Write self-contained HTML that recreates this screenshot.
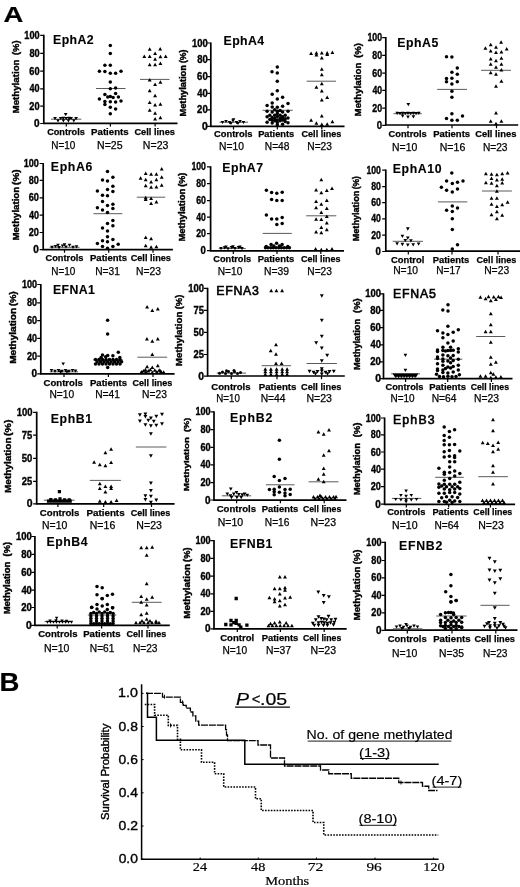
<!DOCTYPE html>
<html><head><meta charset="utf-8"><style>
html,body{margin:0;padding:0;background:#fff;}
svg{display:block;filter:grayscale(1);}
text{font-family:"Liberation Sans", sans-serif;fill:#000;stroke:#000;stroke-width:0.2px;}
.t{stroke-width:0.12px;}
.tm{stroke-width:0.6px;}
.k{stroke-width:0.35px;}
.y{stroke-width:0.4px;}
.c{stroke-width:0.25px;}
.n{stroke-width:0.25px;}
.lg{stroke-width:0.15px;}
.serif{font-family:"Liberation Serif", serif;}
</style></head><body>
<svg width="520" height="887" viewBox="0 0 520 887">
<rect width="520" height="887" fill="#fff"/>
<text x="3.51" y="22.20" font-size="21.5" font-weight="bold" textLength="19.83" lengthAdjust="spacingAndGlyphs">A</text>
<text x="-0.59" y="691.00" font-size="25.0" font-weight="bold" textLength="19.89" lengthAdjust="spacingAndGlyphs">B</text>
<g><path d="M43.8,34.8V123.4H177.5" fill="none" stroke="#000" stroke-width="1.7"/><path d="M40.2,35.4H43.8M40.2,53.4H43.8M40.2,71.2H43.8M40.2,88.9H43.8M40.2,106.1H43.8M40.2,123.5H43.8M66.3,123.4V126.6M110.4,123.4V126.6M155.1,123.4V126.6" stroke="#000" stroke-width="1.2"/><text x="24.35" y="38.95" font-size="10.0" font-weight="bold" textLength="15.25" lengthAdjust="spacingAndGlyphs" class="k">100</text><text x="29.39" y="56.95" font-size="10.0" font-weight="bold" textLength="10.20" lengthAdjust="spacingAndGlyphs" class="k">80</text><text x="29.34" y="74.75" font-size="10.0" font-weight="bold" textLength="10.25" lengthAdjust="spacingAndGlyphs" class="k">60</text><text x="29.53" y="92.45" font-size="10.0" font-weight="bold" textLength="10.05" lengthAdjust="spacingAndGlyphs" class="k">40</text><text x="29.34" y="109.65" font-size="10.0" font-weight="bold" textLength="10.25" lengthAdjust="spacingAndGlyphs" class="k">20</text><text x="34.03" y="127.05" font-size="10.0" font-weight="bold" textLength="5.58" lengthAdjust="spacingAndGlyphs" class="k">0</text><text transform="translate(18.50,112.80) rotate(-90)" x="-0.63" y="0" font-size="9.9" font-weight="bold" textLength="53.92" lengthAdjust="spacingAndGlyphs" class="y">Methylation</text><text transform="translate(18.50,54.60) rotate(-90)" x="-0.47" y="0" font-size="9.9" font-weight="bold" textLength="14.64" lengthAdjust="spacingAndGlyphs" class="y">(%)</text><text x="53.10" y="44.40" font-size="12.3" font-weight="bold" textLength="40.52" lengthAdjust="spacing" class="t">EphA2</text><text x="47.13" y="134.70" font-size="9.7" font-weight="bold" textLength="37.64" lengthAdjust="spacingAndGlyphs" class="c">Controls</text><text x="91.07" y="134.70" font-size="9.7" font-weight="bold" textLength="37.62" lengthAdjust="spacingAndGlyphs" class="c">Patients</text><text x="134.43" y="134.70" font-size="9.7" font-weight="bold" textLength="40.54" lengthAdjust="spacingAndGlyphs" class="c">Cell lines</text><text x="51.30" y="149.00" font-size="10.6" font-weight="normal" textLength="24.08" lengthAdjust="spacingAndGlyphs" class="n">N=10</text><text x="97.06" y="149.00" font-size="10.6" font-weight="normal" textLength="25.50" lengthAdjust="spacingAndGlyphs" class="n">N=25</text><text x="142.86" y="149.00" font-size="10.6" font-weight="normal" textLength="25.50" lengthAdjust="spacingAndGlyphs" class="n">N=23</text></g>
<g><path d="M210.8,42.4V126.4H344.5" fill="none" stroke="#000" stroke-width="1.7"/><path d="M207.2,43.0H210.8M207.2,59.6H210.8M207.2,76.7H210.8M207.2,93.3H210.8M207.2,109.9H210.8M207.2,126.4H210.8M233.5,126.4V129.6M277.3,126.4V129.6M321.8,126.4V129.6" stroke="#000" stroke-width="1.2"/><text x="191.93" y="46.55" font-size="10.0" font-weight="bold" textLength="15.78" lengthAdjust="spacingAndGlyphs" class="k">100</text><text x="197.15" y="63.15" font-size="10.0" font-weight="bold" textLength="10.55" lengthAdjust="spacingAndGlyphs" class="k">80</text><text x="197.10" y="80.25" font-size="10.0" font-weight="bold" textLength="10.60" lengthAdjust="spacingAndGlyphs" class="k">60</text><text x="197.29" y="96.85" font-size="10.0" font-weight="bold" textLength="10.40" lengthAdjust="spacingAndGlyphs" class="k">40</text><text x="197.10" y="113.45" font-size="10.0" font-weight="bold" textLength="10.60" lengthAdjust="spacingAndGlyphs" class="k">20</text><text x="201.95" y="129.95" font-size="10.0" font-weight="bold" textLength="5.78" lengthAdjust="spacingAndGlyphs" class="k">0</text><text transform="translate(185.90,115.90) rotate(-90)" x="-0.60" y="0" font-size="8.8" font-weight="bold" textLength="51.36" lengthAdjust="spacingAndGlyphs" class="y">Methylation</text><text transform="translate(185.90,62.70) rotate(-90)" x="-0.43" y="0" font-size="8.8" font-weight="bold" textLength="13.47" lengthAdjust="spacingAndGlyphs" class="y">(%)</text><text x="223.60" y="45.10" font-size="12.3" font-weight="bold" textLength="40.39" lengthAdjust="spacing" class="t">EphA4</text><text x="214.03" y="136.70" font-size="9.7" font-weight="bold" textLength="38.46" lengthAdjust="spacingAndGlyphs" class="c">Controls</text><text x="258.20" y="136.70" font-size="9.7" font-weight="bold" textLength="36.08" lengthAdjust="spacingAndGlyphs" class="c">Patients</text><text x="301.54" y="136.70" font-size="9.7" font-weight="bold" textLength="39.83" lengthAdjust="spacingAndGlyphs" class="c">Cell lines</text><text x="218.98" y="149.60" font-size="10.6" font-weight="normal" textLength="24.92" lengthAdjust="spacingAndGlyphs" class="n">N=10</text><text x="264.78" y="149.60" font-size="10.6" font-weight="normal" textLength="24.66" lengthAdjust="spacingAndGlyphs" class="n">N=48</text><text x="307.28" y="149.60" font-size="10.6" font-weight="normal" textLength="24.66" lengthAdjust="spacingAndGlyphs" class="n">N=23</text></g>
<g><path d="M385.8,37.1V125.0H518.2" fill="none" stroke="#000" stroke-width="1.7"/><path d="M382.2,37.7H385.8M382.2,55.4H385.8M382.2,73.2H385.8M382.2,90.4H385.8M382.2,108.1H385.8M382.2,125.3H385.8M408.0,125.0V128.2M452.0,125.0V128.2M496.5,125.0V128.2" stroke="#000" stroke-width="1.2"/><text x="367.47" y="41.25" font-size="10.0" font-weight="bold" textLength="14.61" lengthAdjust="spacingAndGlyphs" class="k">100</text><text x="372.30" y="58.95" font-size="10.0" font-weight="bold" textLength="9.77" lengthAdjust="spacingAndGlyphs" class="k">80</text><text x="372.26" y="76.75" font-size="10.0" font-weight="bold" textLength="9.82" lengthAdjust="spacingAndGlyphs" class="k">60</text><text x="372.44" y="93.95" font-size="10.0" font-weight="bold" textLength="9.63" lengthAdjust="spacingAndGlyphs" class="k">40</text><text x="372.26" y="111.65" font-size="10.0" font-weight="bold" textLength="9.82" lengthAdjust="spacingAndGlyphs" class="k">20</text><text x="376.75" y="128.85" font-size="10.0" font-weight="bold" textLength="5.35" lengthAdjust="spacingAndGlyphs" class="k">0</text><text transform="translate(361.40,115.80) rotate(-90)" x="-0.63" y="0" font-size="9.57" font-weight="bold" textLength="53.82" lengthAdjust="spacingAndGlyphs" class="y">Methylation</text><text transform="translate(361.40,57.40) rotate(-90)" x="-0.47" y="0" font-size="9.57" font-weight="bold" textLength="14.75" lengthAdjust="spacingAndGlyphs" class="y">(%)</text><text x="397.30" y="46.60" font-size="12.3" font-weight="bold" textLength="40.93" lengthAdjust="spacing" class="t">EphA5</text><text x="388.53" y="137.40" font-size="9.7" font-weight="bold" textLength="38.15" lengthAdjust="spacingAndGlyphs" class="c">Controls</text><text x="433.18" y="137.40" font-size="9.7" font-weight="bold" textLength="36.90" lengthAdjust="spacingAndGlyphs" class="c">Patients</text><text x="475.23" y="137.40" font-size="9.7" font-weight="bold" textLength="41.16" lengthAdjust="spacingAndGlyphs" class="c">Cell lines</text><text x="392.07" y="150.80" font-size="10.6" font-weight="normal" textLength="25.24" lengthAdjust="spacingAndGlyphs" class="n">N=10</text><text x="439.76" y="150.80" font-size="10.6" font-weight="normal" textLength="25.50" lengthAdjust="spacingAndGlyphs" class="n">N=16</text><text x="482.88" y="150.80" font-size="10.6" font-weight="normal" textLength="24.66" lengthAdjust="spacingAndGlyphs" class="n">N=23</text></g>
<g><path d="M43.2,162.9V249.6H172.9" fill="none" stroke="#000" stroke-width="1.7"/><path d="M39.6,163.5H43.2M39.6,180.4H43.2M39.6,197.8H43.2M39.6,215.1H43.2M39.6,232.5H43.2M39.6,249.7H43.2M64.5,249.6V252.8M108.7,249.6V252.8M153.0,249.6V252.8" stroke="#000" stroke-width="1.2"/><text x="23.76" y="167.05" font-size="10.0" font-weight="bold" textLength="15.14" lengthAdjust="spacingAndGlyphs" class="k">100</text><text x="28.76" y="183.95" font-size="10.0" font-weight="bold" textLength="10.13" lengthAdjust="spacingAndGlyphs" class="k">80</text><text x="28.71" y="201.35" font-size="10.0" font-weight="bold" textLength="10.17" lengthAdjust="spacingAndGlyphs" class="k">60</text><text x="28.90" y="218.65" font-size="10.0" font-weight="bold" textLength="9.98" lengthAdjust="spacingAndGlyphs" class="k">40</text><text x="28.71" y="236.05" font-size="10.0" font-weight="bold" textLength="10.17" lengthAdjust="spacingAndGlyphs" class="k">20</text><text x="33.37" y="253.25" font-size="10.0" font-weight="bold" textLength="5.54" lengthAdjust="spacingAndGlyphs" class="k">0</text><text transform="translate(18.80,239.80) rotate(-90)" x="-0.63" y="0" font-size="8.58" font-weight="bold" textLength="53.51" lengthAdjust="spacingAndGlyphs" class="y">Methylation</text><text transform="translate(18.80,184.40) rotate(-90)" x="-0.49" y="0" font-size="8.58" font-weight="bold" textLength="15.39" lengthAdjust="spacingAndGlyphs" class="y">(%)</text><text x="50.80" y="170.90" font-size="12.3" font-weight="bold" textLength="41.46" lengthAdjust="spacing" class="t">EphA6</text><text x="45.53" y="260.60" font-size="9.7" font-weight="bold" textLength="37.95" lengthAdjust="spacingAndGlyphs" class="c">Controls</text><text x="89.98" y="260.60" font-size="9.7" font-weight="bold" textLength="37.10" lengthAdjust="spacingAndGlyphs" class="c">Patients</text><text x="130.63" y="260.60" font-size="9.7" font-weight="bold" textLength="40.34" lengthAdjust="spacingAndGlyphs" class="c">Cell lines</text><text x="51.30" y="274.60" font-size="10.6" font-weight="normal" textLength="24.08" lengthAdjust="spacingAndGlyphs" class="n">N=10</text><text x="95.18" y="274.60" font-size="10.6" font-weight="normal" textLength="24.71" lengthAdjust="spacingAndGlyphs" class="n">N=31</text><text x="136.07" y="274.60" font-size="10.6" font-weight="normal" textLength="24.98" lengthAdjust="spacingAndGlyphs" class="n">N=23</text></g>
<g><path d="M210.6,166.2V250.8H344.0" fill="none" stroke="#000" stroke-width="1.7"/><path d="M207.0,166.8H210.6M207.0,183.6H210.6M207.0,200.6H210.6M207.0,217.1H210.6M207.0,233.7H210.6M207.0,250.6H210.6M233.3,250.8V254.0M277.0,250.8V254.0M320.8,250.8V254.0" stroke="#000" stroke-width="1.2"/><text x="191.38" y="170.35" font-size="10.0" font-weight="bold" textLength="14.50" lengthAdjust="spacingAndGlyphs" class="k">100</text><text x="196.17" y="187.15" font-size="10.0" font-weight="bold" textLength="9.70" lengthAdjust="spacingAndGlyphs" class="k">80</text><text x="196.13" y="204.15" font-size="10.0" font-weight="bold" textLength="9.74" lengthAdjust="spacingAndGlyphs" class="k">60</text><text x="196.30" y="220.65" font-size="10.0" font-weight="bold" textLength="9.56" lengthAdjust="spacingAndGlyphs" class="k">40</text><text x="196.13" y="237.25" font-size="10.0" font-weight="bold" textLength="9.74" lengthAdjust="spacingAndGlyphs" class="k">20</text><text x="200.58" y="254.15" font-size="10.0" font-weight="bold" textLength="5.31" lengthAdjust="spacingAndGlyphs" class="k">0</text><text transform="translate(184.60,241.00) rotate(-90)" x="-0.62" y="0" font-size="8.58" font-weight="bold" textLength="52.90" lengthAdjust="spacingAndGlyphs" class="y">Methylation</text><text transform="translate(184.60,186.30) rotate(-90)" x="-0.45" y="0" font-size="8.58" font-weight="bold" textLength="14.00" lengthAdjust="spacingAndGlyphs" class="y">(%)</text><text x="222.30" y="171.90" font-size="12.3" font-weight="bold" textLength="40.72" lengthAdjust="spacing" class="t">EphA7</text><text x="213.23" y="261.70" font-size="9.7" font-weight="bold" textLength="37.95" lengthAdjust="spacingAndGlyphs" class="c">Controls</text><text x="257.69" y="261.70" font-size="9.7" font-weight="bold" textLength="36.59" lengthAdjust="spacingAndGlyphs" class="c">Patients</text><text x="301.04" y="261.70" font-size="9.7" font-weight="bold" textLength="39.53" lengthAdjust="spacingAndGlyphs" class="c">Cell lines</text><text x="217.69" y="274.60" font-size="10.6" font-weight="normal" textLength="24.61" lengthAdjust="spacingAndGlyphs" class="n">N=10</text><text x="263.97" y="274.60" font-size="10.6" font-weight="normal" textLength="25.03" lengthAdjust="spacingAndGlyphs" class="n">N=39</text><text x="307.28" y="274.60" font-size="10.6" font-weight="normal" textLength="24.66" lengthAdjust="spacingAndGlyphs" class="n">N=23</text></g>
<g><path d="M385.8,169.5V251.2H520.0" fill="none" stroke="#000" stroke-width="1.7"/><path d="M382.2,170.1H385.8M382.2,186.7H385.8M382.2,202.7H385.8M382.2,218.9H385.8M382.2,235.2H385.8M382.2,251.5H385.8M408.3,251.2V254.4M452.0,251.2V254.4M498.0,251.2V254.4" stroke="#000" stroke-width="1.2"/><text x="366.38" y="173.65" font-size="10.0" font-weight="bold" textLength="14.50" lengthAdjust="spacingAndGlyphs" class="k">100</text><text x="371.17" y="190.25" font-size="10.0" font-weight="bold" textLength="9.70" lengthAdjust="spacingAndGlyphs" class="k">80</text><text x="371.13" y="206.25" font-size="10.0" font-weight="bold" textLength="9.74" lengthAdjust="spacingAndGlyphs" class="k">60</text><text x="371.30" y="222.45" font-size="10.0" font-weight="bold" textLength="9.56" lengthAdjust="spacingAndGlyphs" class="k">40</text><text x="371.13" y="238.75" font-size="10.0" font-weight="bold" textLength="9.74" lengthAdjust="spacingAndGlyphs" class="k">20</text><text x="375.58" y="255.05" font-size="10.0" font-weight="bold" textLength="5.31" lengthAdjust="spacingAndGlyphs" class="k">0</text><text transform="translate(359.40,240.70) rotate(-90)" x="-0.59" y="0" font-size="8.58" font-weight="bold" textLength="50.55" lengthAdjust="spacingAndGlyphs" class="y">Methylation</text><text transform="translate(359.40,188.90) rotate(-90)" x="-0.43" y="0" font-size="8.58" font-weight="bold" textLength="13.25" lengthAdjust="spacingAndGlyphs" class="y">(%)</text><text x="392.70" y="173.00" font-size="12.3" font-weight="bold" textLength="48.93" lengthAdjust="spacing" class="t">EphA10</text><text x="390.92" y="262.50" font-size="9.7" font-weight="bold" textLength="33.33" lengthAdjust="spacingAndGlyphs" class="c">Control</text><text x="432.69" y="262.50" font-size="9.7" font-weight="bold" textLength="36.59" lengthAdjust="spacingAndGlyphs" class="c">Patients</text><text x="476.54" y="262.50" font-size="9.7" font-weight="bold" textLength="39.83" lengthAdjust="spacingAndGlyphs" class="c">Cell lines</text><text x="393.18" y="273.80" font-size="10.6" font-weight="normal" textLength="24.92" lengthAdjust="spacingAndGlyphs" class="n">N=10</text><text x="436.29" y="273.80" font-size="10.6" font-weight="normal" textLength="24.45" lengthAdjust="spacingAndGlyphs" class="n">N=17</text><text x="484.17" y="273.80" font-size="10.6" font-weight="normal" textLength="24.98" lengthAdjust="spacingAndGlyphs" class="n">N=23</text></g>
<g><path d="M40.8,283.9V373.9H174.6" fill="none" stroke="#000" stroke-width="1.7"/><path d="M37.2,284.5H40.8M37.2,302.9H40.8M37.2,320.6H40.8M37.2,338.4H40.8M37.2,356.1H40.8M37.2,373.9H40.8M64.0,373.9V377.1M108.4,373.9V377.1M153.0,373.9V377.1" stroke="#000" stroke-width="1.2"/><text x="21.96" y="288.05" font-size="10.0" font-weight="bold" textLength="15.14" lengthAdjust="spacingAndGlyphs" class="k">100</text><text x="26.96" y="306.45" font-size="10.0" font-weight="bold" textLength="10.13" lengthAdjust="spacingAndGlyphs" class="k">80</text><text x="26.91" y="324.15" font-size="10.0" font-weight="bold" textLength="10.17" lengthAdjust="spacingAndGlyphs" class="k">60</text><text x="27.10" y="341.95" font-size="10.0" font-weight="bold" textLength="9.98" lengthAdjust="spacingAndGlyphs" class="k">40</text><text x="26.91" y="359.65" font-size="10.0" font-weight="bold" textLength="10.17" lengthAdjust="spacingAndGlyphs" class="k">20</text><text x="31.57" y="377.45" font-size="10.0" font-weight="bold" textLength="5.54" lengthAdjust="spacingAndGlyphs" class="k">0</text><text transform="translate(15.70,363.20) rotate(-90)" x="-0.65" y="0" font-size="8.91" font-weight="bold" textLength="55.97" lengthAdjust="spacingAndGlyphs" class="y">Methylation</text><text transform="translate(15.70,305.60) rotate(-90)" x="-0.47" y="0" font-size="8.91" font-weight="bold" textLength="14.75" lengthAdjust="spacingAndGlyphs" class="y">(%)</text><text x="53.00" y="293.80" font-size="12.3" font-weight="bold" textLength="41.95" lengthAdjust="spacing" class="t">EFNA1</text><text x="43.62" y="385.50" font-size="9.7" font-weight="bold" textLength="39.27" lengthAdjust="spacingAndGlyphs" class="c">Controls</text><text x="89.98" y="385.50" font-size="9.7" font-weight="bold" textLength="37.10" lengthAdjust="spacingAndGlyphs" class="c">Patients</text><text x="132.54" y="385.50" font-size="9.7" font-weight="bold" textLength="39.73" lengthAdjust="spacingAndGlyphs" class="c">Cell lines</text><text x="49.38" y="398.20" font-size="10.6" font-weight="normal" textLength="24.71" lengthAdjust="spacingAndGlyphs" class="n">N=10</text><text x="95.18" y="398.20" font-size="10.6" font-weight="normal" textLength="24.71" lengthAdjust="spacingAndGlyphs" class="n">N=41</text><text x="142.08" y="398.20" font-size="10.6" font-weight="normal" textLength="24.87" lengthAdjust="spacingAndGlyphs" class="n">N=23</text></g>
<g><path d="M207.6,287.8V376.0H344.8" fill="none" stroke="#000" stroke-width="1.7"/><path d="M204.0,288.4H207.6M204.0,310.4H207.6M204.0,332.4H207.6M204.0,354.5H207.6M204.0,376.2H207.6M231.3,376.0V379.2M277.0,376.0V379.2M321.5,376.0V379.2" stroke="#000" stroke-width="1.2"/><text x="188.33" y="291.95" font-size="10.0" font-weight="bold" textLength="15.78" lengthAdjust="spacingAndGlyphs" class="k">100</text><text x="193.46" y="313.95" font-size="10.0" font-weight="bold" textLength="10.50" lengthAdjust="spacingAndGlyphs" class="k">75</text><text x="193.55" y="335.95" font-size="10.0" font-weight="bold" textLength="10.55" lengthAdjust="spacingAndGlyphs" class="k">50</text><text x="193.50" y="358.05" font-size="10.0" font-weight="bold" textLength="10.45" lengthAdjust="spacingAndGlyphs" class="k">25</text><text x="198.35" y="379.75" font-size="10.0" font-weight="bold" textLength="5.78" lengthAdjust="spacingAndGlyphs" class="k">0</text><text transform="translate(182.00,365.70) rotate(-90)" x="-0.64" y="0" font-size="9.24" font-weight="bold" textLength="54.84" lengthAdjust="spacingAndGlyphs" class="y">Methylation</text><text transform="translate(182.00,308.90) rotate(-90)" x="-0.47" y="0" font-size="9.24" font-weight="bold" textLength="14.64" lengthAdjust="spacingAndGlyphs" class="y">(%)</text><text x="216.32" y="294.80" font-size="12.3" font-weight="normal" textLength="42.52" lengthAdjust="spacing" class="tm">EFNA3</text><text x="211.32" y="390.20" font-size="9.7" font-weight="bold" textLength="39.27" lengthAdjust="spacingAndGlyphs" class="c">Controls</text><text x="258.77" y="390.20" font-size="9.7" font-weight="bold" textLength="37.62" lengthAdjust="spacingAndGlyphs" class="c">Patients</text><text x="301.03" y="390.20" font-size="9.7" font-weight="bold" textLength="40.34" lengthAdjust="spacingAndGlyphs" class="c">Cell lines</text><text x="216.32" y="401.80" font-size="10.6" font-weight="normal" textLength="23.55" lengthAdjust="spacingAndGlyphs" class="n">N=10</text><text x="260.68" y="401.80" font-size="10.6" font-weight="normal" textLength="24.87" lengthAdjust="spacingAndGlyphs" class="n">N=44</text><text x="306.46" y="401.80" font-size="10.6" font-weight="normal" textLength="25.50" lengthAdjust="spacingAndGlyphs" class="n">N=23</text></g>
<g><path d="M383.5,293.3V378.7H512.5" fill="none" stroke="#000" stroke-width="1.7"/><path d="M379.9,293.9H383.5M379.9,310.4H383.5M379.9,327.6H383.5M379.9,344.8H383.5M379.9,361.9H383.5M379.9,378.7H383.5M405.6,378.7V381.9M447.7,378.7V381.9M491.4,378.7V381.9" stroke="#000" stroke-width="1.2"/><text x="365.13" y="297.45" font-size="10.0" font-weight="bold" textLength="15.78" lengthAdjust="spacingAndGlyphs" class="k">100</text><text x="370.35" y="313.95" font-size="10.0" font-weight="bold" textLength="10.55" lengthAdjust="spacingAndGlyphs" class="k">80</text><text x="370.30" y="331.15" font-size="10.0" font-weight="bold" textLength="10.60" lengthAdjust="spacingAndGlyphs" class="k">60</text><text x="370.49" y="348.35" font-size="10.0" font-weight="bold" textLength="10.40" lengthAdjust="spacingAndGlyphs" class="k">40</text><text x="370.30" y="365.45" font-size="10.0" font-weight="bold" textLength="10.60" lengthAdjust="spacingAndGlyphs" class="k">20</text><text x="375.15" y="382.25" font-size="10.0" font-weight="bold" textLength="5.78" lengthAdjust="spacingAndGlyphs" class="k">0</text><text transform="translate(359.90,369.50) rotate(-90)" x="-0.60" y="0" font-size="8.36" font-weight="bold" textLength="51.16" lengthAdjust="spacingAndGlyphs" class="y">Methylation</text><text transform="translate(359.90,312.50) rotate(-90)" x="-0.47" y="0" font-size="8.36" font-weight="bold" textLength="14.64" lengthAdjust="spacingAndGlyphs" class="y">(%)</text><text x="392.92" y="297.70" font-size="12.3" font-weight="normal" textLength="42.92" lengthAdjust="spacing" class="tm">EFNA5</text><text x="385.53" y="389.50" font-size="9.7" font-weight="bold" textLength="37.95" lengthAdjust="spacingAndGlyphs" class="c">Controls</text><text x="429.19" y="389.50" font-size="9.7" font-weight="bold" textLength="36.80" lengthAdjust="spacingAndGlyphs" class="c">Patients</text><text x="470.65" y="389.50" font-size="9.7" font-weight="bold" textLength="38.41" lengthAdjust="spacingAndGlyphs" class="c">Cell lines</text><text x="390.50" y="402.20" font-size="10.6" font-weight="normal" textLength="24.08" lengthAdjust="spacingAndGlyphs" class="n">N=10</text><text x="431.68" y="402.20" font-size="10.6" font-weight="normal" textLength="24.87" lengthAdjust="spacingAndGlyphs" class="n">N=64</text><text x="473.97" y="402.20" font-size="10.6" font-weight="normal" textLength="24.98" lengthAdjust="spacingAndGlyphs" class="n">N=23</text></g>
<g><path d="M36.7,411.7V503.8H174.6" fill="none" stroke="#000" stroke-width="1.7"/><path d="M33.1,412.3H36.7M33.1,435.2H36.7M33.1,458.3H36.7M33.1,481.3H36.7M33.1,503.8H36.7M57.9,503.8V507.0M103.7,503.8V507.0M151.5,503.8V507.0" stroke="#000" stroke-width="1.2"/><text x="16.63" y="415.85" font-size="10.0" font-weight="bold" textLength="15.78" lengthAdjust="spacingAndGlyphs" class="k">100</text><text x="21.76" y="438.75" font-size="10.0" font-weight="bold" textLength="10.50" lengthAdjust="spacingAndGlyphs" class="k">75</text><text x="21.85" y="461.85" font-size="10.0" font-weight="bold" textLength="10.55" lengthAdjust="spacingAndGlyphs" class="k">50</text><text x="21.80" y="484.85" font-size="10.0" font-weight="bold" textLength="10.45" lengthAdjust="spacingAndGlyphs" class="k">25</text><text x="26.65" y="507.35" font-size="10.0" font-weight="bold" textLength="5.78" lengthAdjust="spacingAndGlyphs" class="k">0</text><text transform="translate(11.00,492.30) rotate(-90)" x="-0.65" y="0" font-size="9.46" font-weight="bold" textLength="55.46" lengthAdjust="spacingAndGlyphs" class="y">Methylation</text><text transform="translate(11.00,435.40) rotate(-90)" x="-0.53" y="0" font-size="9.46" font-weight="bold" textLength="16.35" lengthAdjust="spacingAndGlyphs" class="y">(%)</text><text x="50.80" y="423.20" font-size="12.3" font-weight="bold" textLength="41.33" lengthAdjust="spacing" class="t">EphB1</text><text x="39.81" y="515.80" font-size="9.7" font-weight="bold" textLength="39.58" lengthAdjust="spacingAndGlyphs" class="c">Controls</text><text x="86.46" y="515.80" font-size="9.7" font-weight="bold" textLength="38.13" lengthAdjust="spacingAndGlyphs" class="c">Patients</text><text x="130.64" y="515.80" font-size="9.7" font-weight="bold" textLength="39.73" lengthAdjust="spacingAndGlyphs" class="c">Cell lines</text><text x="42.07" y="528.80" font-size="10.6" font-weight="normal" textLength="25.24" lengthAdjust="spacingAndGlyphs" class="n">N=10</text><text x="89.76" y="528.80" font-size="10.6" font-weight="normal" textLength="25.50" lengthAdjust="spacingAndGlyphs" class="n">N=16</text><text x="136.36" y="528.80" font-size="10.6" font-weight="normal" textLength="25.50" lengthAdjust="spacingAndGlyphs" class="n">N=23</text></g>
<g><path d="M214.0,411.2V500.1H346.5" fill="none" stroke="#000" stroke-width="1.7"/><path d="M210.4,411.8H214.0M210.4,429.6H214.0M210.4,447.3H214.0M210.4,464.9H214.0M210.4,482.6H214.0M210.4,500.0H214.0M236.6,500.1V503.3M280.4,500.1V503.3M324.2,500.1V503.3" stroke="#000" stroke-width="1.2"/><text x="195.46" y="415.35" font-size="10.0" font-weight="bold" textLength="15.14" lengthAdjust="spacingAndGlyphs" class="k">100</text><text x="200.46" y="433.15" font-size="10.0" font-weight="bold" textLength="10.13" lengthAdjust="spacingAndGlyphs" class="k">80</text><text x="200.41" y="450.85" font-size="10.0" font-weight="bold" textLength="10.17" lengthAdjust="spacingAndGlyphs" class="k">60</text><text x="200.60" y="468.45" font-size="10.0" font-weight="bold" textLength="9.98" lengthAdjust="spacingAndGlyphs" class="k">40</text><text x="200.41" y="486.15" font-size="10.0" font-weight="bold" textLength="10.17" lengthAdjust="spacingAndGlyphs" class="k">20</text><text x="205.07" y="503.55" font-size="10.0" font-weight="bold" textLength="5.54" lengthAdjust="spacingAndGlyphs" class="k">0</text><text transform="translate(189.20,490.60) rotate(-90)" x="-0.63" y="0" font-size="8.03" font-weight="bold" textLength="54.23" lengthAdjust="spacingAndGlyphs" class="y">Methylation</text><text transform="translate(189.20,431.60) rotate(-90)" x="-0.46" y="0" font-size="8.03" font-weight="bold" textLength="14.43" lengthAdjust="spacingAndGlyphs" class="y">(%)</text><text x="230.10" y="421.50" font-size="12.3" font-weight="bold" textLength="42.12" lengthAdjust="spacing" class="t">EphB2</text><text x="216.72" y="512.20" font-size="9.7" font-weight="bold" textLength="39.27" lengthAdjust="spacingAndGlyphs" class="c">Controls</text><text x="261.69" y="512.20" font-size="9.7" font-weight="bold" textLength="36.59" lengthAdjust="spacingAndGlyphs" class="c">Patients</text><text x="302.95" y="512.20" font-size="9.7" font-weight="bold" textLength="38.41" lengthAdjust="spacingAndGlyphs" class="c">Cell lines</text><text x="217.66" y="525.70" font-size="10.6" font-weight="normal" textLength="25.45" lengthAdjust="spacingAndGlyphs" class="n">N=10</text><text x="264.78" y="525.70" font-size="10.6" font-weight="normal" textLength="24.66" lengthAdjust="spacingAndGlyphs" class="n">N=16</text><text x="310.56" y="525.70" font-size="10.6" font-weight="normal" textLength="25.50" lengthAdjust="spacingAndGlyphs" class="n">N=23</text></g>
<g><path d="M384.6,417.4V504.3H515.1" fill="none" stroke="#000" stroke-width="1.7"/><path d="M381.0,418.0H384.6M381.0,434.9H384.6M381.0,452.0H384.6M381.0,469.2H384.6M381.0,486.7H384.6M381.0,504.1H384.6M406.3,504.3V507.5M448.7,504.3V507.5M490.4,504.3V507.5" stroke="#000" stroke-width="1.2"/><text x="365.76" y="421.55" font-size="10.0" font-weight="bold" textLength="15.14" lengthAdjust="spacingAndGlyphs" class="k">100</text><text x="370.76" y="438.45" font-size="10.0" font-weight="bold" textLength="10.13" lengthAdjust="spacingAndGlyphs" class="k">80</text><text x="370.71" y="455.55" font-size="10.0" font-weight="bold" textLength="10.17" lengthAdjust="spacingAndGlyphs" class="k">60</text><text x="370.90" y="472.75" font-size="10.0" font-weight="bold" textLength="9.98" lengthAdjust="spacingAndGlyphs" class="k">40</text><text x="370.71" y="490.25" font-size="10.0" font-weight="bold" textLength="10.17" lengthAdjust="spacingAndGlyphs" class="k">20</text><text x="375.37" y="507.65" font-size="10.0" font-weight="bold" textLength="5.54" lengthAdjust="spacingAndGlyphs" class="k">0</text><text transform="translate(359.90,494.60) rotate(-90)" x="-0.61" y="0" font-size="8.36" font-weight="bold" textLength="52.08" lengthAdjust="spacingAndGlyphs" class="y">Methylation</text><text transform="translate(359.90,436.90) rotate(-90)" x="-0.48" y="0" font-size="8.36" font-weight="bold" textLength="14.86" lengthAdjust="spacingAndGlyphs" class="y">(%)</text><text x="392.92" y="423.80" font-size="12.3" font-weight="normal" textLength="41.71" lengthAdjust="spacing" class="tm">EphB3</text><text x="387.13" y="515.30" font-size="9.7" font-weight="bold" textLength="38.25" lengthAdjust="spacingAndGlyphs" class="c">Controls</text><text x="432.39" y="515.30" font-size="9.7" font-weight="bold" textLength="36.28" lengthAdjust="spacingAndGlyphs" class="c">Patients</text><text x="473.35" y="515.30" font-size="9.7" font-weight="bold" textLength="38.91" lengthAdjust="spacingAndGlyphs" class="c">Cell lines</text><text x="392.05" y="528.80" font-size="10.6" font-weight="normal" textLength="25.55" lengthAdjust="spacingAndGlyphs" class="n">N=10</text><text x="434.39" y="528.80" font-size="10.6" font-weight="normal" textLength="24.55" lengthAdjust="spacingAndGlyphs" class="n">N=64</text><text x="478.26" y="528.80" font-size="10.6" font-weight="normal" textLength="25.50" lengthAdjust="spacingAndGlyphs" class="n">N=23</text></g>
<g><path d="M34.9,535.9V625.3H169.8" fill="none" stroke="#000" stroke-width="1.7"/><path d="M31.3,536.5H34.9M31.3,554.3H34.9M31.3,572.4H34.9M31.3,590.1H34.9M31.3,607.5H34.9M31.3,625.3H34.9M57.2,625.3V628.5M101.6,625.3V628.5M148.0,625.3V628.5" stroke="#000" stroke-width="1.2"/><text x="16.03" y="540.05" font-size="10.0" font-weight="bold" textLength="15.78" lengthAdjust="spacingAndGlyphs" class="k">100</text><text x="21.25" y="557.85" font-size="10.0" font-weight="bold" textLength="10.55" lengthAdjust="spacingAndGlyphs" class="k">80</text><text x="21.20" y="575.95" font-size="10.0" font-weight="bold" textLength="10.60" lengthAdjust="spacingAndGlyphs" class="k">60</text><text x="21.39" y="593.65" font-size="10.0" font-weight="bold" textLength="10.40" lengthAdjust="spacingAndGlyphs" class="k">40</text><text x="21.20" y="611.05" font-size="10.0" font-weight="bold" textLength="10.60" lengthAdjust="spacingAndGlyphs" class="k">20</text><text x="26.05" y="628.85" font-size="10.0" font-weight="bold" textLength="5.78" lengthAdjust="spacingAndGlyphs" class="k">0</text><text transform="translate(9.60,613.70) rotate(-90)" x="-0.62" y="0" font-size="8.36" font-weight="bold" textLength="52.59" lengthAdjust="spacingAndGlyphs" class="y">Methylation</text><text transform="translate(9.60,556.00) rotate(-90)" x="-0.46" y="0" font-size="8.36" font-weight="bold" textLength="14.43" lengthAdjust="spacingAndGlyphs" class="y">(%)</text><text x="46.50" y="545.90" font-size="12.3" font-weight="bold" textLength="41.09" lengthAdjust="spacing" class="t">EphB4</text><text x="38.22" y="636.80" font-size="9.7" font-weight="bold" textLength="39.27" lengthAdjust="spacingAndGlyphs" class="c">Controls</text><text x="83.17" y="636.80" font-size="9.7" font-weight="bold" textLength="37.41" lengthAdjust="spacingAndGlyphs" class="c">Patients</text><text x="126.54" y="636.80" font-size="9.7" font-weight="bold" textLength="39.83" lengthAdjust="spacingAndGlyphs" class="c">Cell lines</text><text x="43.96" y="651.70" font-size="10.6" font-weight="normal" textLength="25.45" lengthAdjust="spacingAndGlyphs" class="n">N=10</text><text x="89.78" y="651.70" font-size="10.6" font-weight="normal" textLength="24.71" lengthAdjust="spacingAndGlyphs" class="n">N=61</text><text x="132.88" y="651.70" font-size="10.6" font-weight="normal" textLength="24.66" lengthAdjust="spacingAndGlyphs" class="n">N=23</text></g>
<g><path d="M214.0,540.1V628.9H346.7" fill="none" stroke="#000" stroke-width="1.7"/><path d="M210.4,540.7H214.0M210.4,558.4H214.0M210.4,576.2H214.0M210.4,593.9H214.0M210.4,611.4H214.0M210.4,628.8H214.0M237.3,628.9V632.1M280.4,628.9V632.1M324.2,628.9V632.1" stroke="#000" stroke-width="1.2"/><text x="195.46" y="544.25" font-size="10.0" font-weight="bold" textLength="15.14" lengthAdjust="spacingAndGlyphs" class="k">100</text><text x="200.46" y="561.95" font-size="10.0" font-weight="bold" textLength="10.13" lengthAdjust="spacingAndGlyphs" class="k">80</text><text x="200.41" y="579.75" font-size="10.0" font-weight="bold" textLength="10.17" lengthAdjust="spacingAndGlyphs" class="k">60</text><text x="200.60" y="597.45" font-size="10.0" font-weight="bold" textLength="9.98" lengthAdjust="spacingAndGlyphs" class="k">40</text><text x="200.41" y="614.95" font-size="10.0" font-weight="bold" textLength="10.17" lengthAdjust="spacingAndGlyphs" class="k">20</text><text x="205.07" y="632.35" font-size="10.0" font-weight="bold" textLength="5.54" lengthAdjust="spacingAndGlyphs" class="k">0</text><text transform="translate(189.90,618.20) rotate(-90)" x="-0.64" y="0" font-size="8.36" font-weight="bold" textLength="54.84" lengthAdjust="spacingAndGlyphs" class="y">Methylation</text><text transform="translate(189.90,561.50) rotate(-90)" x="-0.46" y="0" font-size="8.36" font-weight="bold" textLength="14.43" lengthAdjust="spacingAndGlyphs" class="y">(%)</text><text x="230.10" y="548.00" font-size="12.3" font-weight="bold" textLength="42.35" lengthAdjust="spacing" class="t">EFNB1</text><text x="220.22" y="641.00" font-size="9.7" font-weight="bold" textLength="33.95" lengthAdjust="spacingAndGlyphs" class="c">Control</text><text x="261.69" y="641.00" font-size="9.7" font-weight="bold" textLength="36.59" lengthAdjust="spacingAndGlyphs" class="c">Patients</text><text x="302.95" y="641.00" font-size="9.7" font-weight="bold" textLength="38.41" lengthAdjust="spacingAndGlyphs" class="c">Cell lines</text><text x="222.49" y="654.20" font-size="10.6" font-weight="normal" textLength="24.61" lengthAdjust="spacingAndGlyphs" class="n">N=10</text><text x="266.07" y="654.20" font-size="10.6" font-weight="normal" textLength="25.08" lengthAdjust="spacingAndGlyphs" class="n">N=37</text><text x="310.56" y="654.20" font-size="10.6" font-weight="normal" textLength="25.50" lengthAdjust="spacingAndGlyphs" class="n">N=23</text></g>
<g><path d="M385.2,541.8V630.2H517.5" fill="none" stroke="#000" stroke-width="1.7"/><path d="M381.6,542.4H385.2M381.6,560.5H385.2M381.6,577.9H385.2M381.6,595.3H385.2M381.6,612.8H385.2M381.6,630.4H385.2M407.3,630.2V633.4M452.0,630.2V633.4M495.8,630.2V633.4" stroke="#000" stroke-width="1.2"/><text x="366.36" y="545.95" font-size="10.0" font-weight="bold" textLength="15.14" lengthAdjust="spacingAndGlyphs" class="k">100</text><text x="371.36" y="564.05" font-size="10.0" font-weight="bold" textLength="10.13" lengthAdjust="spacingAndGlyphs" class="k">80</text><text x="371.31" y="581.45" font-size="10.0" font-weight="bold" textLength="10.17" lengthAdjust="spacingAndGlyphs" class="k">60</text><text x="371.50" y="598.85" font-size="10.0" font-weight="bold" textLength="9.98" lengthAdjust="spacingAndGlyphs" class="k">40</text><text x="371.31" y="616.35" font-size="10.0" font-weight="bold" textLength="10.17" lengthAdjust="spacingAndGlyphs" class="k">20</text><text x="375.97" y="633.95" font-size="10.0" font-weight="bold" textLength="5.54" lengthAdjust="spacingAndGlyphs" class="k">0</text><text transform="translate(360.30,619.80) rotate(-90)" x="-0.63" y="0" font-size="8.8" font-weight="bold" textLength="53.92" lengthAdjust="spacingAndGlyphs" class="y">Methylation</text><text transform="translate(360.30,563.90) rotate(-90)" x="-0.48" y="0" font-size="8.8" font-weight="bold" textLength="14.86" lengthAdjust="spacingAndGlyphs" class="y">(%)</text><text x="399.00" y="550.20" font-size="12.3" font-weight="bold" textLength="43.23" lengthAdjust="spacing" class="t">EFNB2</text><text x="387.72" y="642.20" font-size="9.7" font-weight="bold" textLength="38.97" lengthAdjust="spacingAndGlyphs" class="c">Controls</text><text x="433.17" y="642.20" font-size="9.7" font-weight="bold" textLength="37.41" lengthAdjust="spacingAndGlyphs" class="c">Patients</text><text x="474.43" y="642.20" font-size="9.7" font-weight="bold" textLength="40.54" lengthAdjust="spacingAndGlyphs" class="c">Cell lines</text><text x="392.07" y="657.00" font-size="10.6" font-weight="normal" textLength="25.24" lengthAdjust="spacingAndGlyphs" class="n">N=10</text><text x="438.97" y="657.00" font-size="10.6" font-weight="normal" textLength="24.98" lengthAdjust="spacingAndGlyphs" class="n">N=35</text><text x="482.88" y="657.00" font-size="10.6" font-weight="normal" textLength="24.66" lengthAdjust="spacingAndGlyphs" class="n">N=23</text></g>
<path d="M51.0,119.2H81.3" stroke="#5a5a5a" stroke-width="1.0"/>
<path d="M96.0,88.5H125.5" stroke="#5a5a5a" stroke-width="1.0"/>
<path d="M140.0,79.4H169.5" stroke="#5a5a5a" stroke-width="1.0"/>
<path fill="#000" d="M63.85,112.93L67.55,112.93L65.70,116.27ZM53.15,116.93L56.85,116.93L55.00,120.27ZM58.85,116.93L62.55,116.93L60.70,120.27ZM64.25,116.93L67.95,116.93L66.10,120.27ZM69.25,116.93L72.95,116.93L71.10,120.27ZM74.25,116.93L77.95,116.93L76.10,120.27ZM56.15,119.23L59.85,119.23L58.00,122.57ZM61.55,119.23L65.25,119.23L63.40,122.57ZM66.55,119.23L70.25,119.23L68.40,122.57ZM71.95,119.23L75.65,119.23L73.80,122.57ZM61.35,116.63L65.05,116.63L63.20,119.97ZM67.15,116.63L70.85,116.63L69.00,119.97Z"/>
<g fill="#000"><circle cx="110.3" cy="45.5" r="1.75"/><circle cx="110.3" cy="53.6" r="1.75"/><circle cx="104.9" cy="65.2" r="1.75"/><circle cx="110.3" cy="65.2" r="1.75"/><circle cx="99.4" cy="71.2" r="1.75"/><circle cx="104.9" cy="71.5" r="1.75"/><circle cx="110.3" cy="73.3" r="1.75"/><circle cx="115.6" cy="73.3" r="1.75"/><circle cx="121.0" cy="71.2" r="1.75"/><circle cx="110.3" cy="81.9" r="1.75"/><circle cx="110.3" cy="88.8" r="1.75"/><circle cx="115.6" cy="88.0" r="1.75"/><circle cx="104.9" cy="94.4" r="1.75"/><circle cx="115.6" cy="93.6" r="1.75"/><circle cx="107.8" cy="97.1" r="1.75"/><circle cx="110.3" cy="96.4" r="1.75"/><circle cx="113.1" cy="97.4" r="1.75"/><circle cx="118.4" cy="97.1" r="1.75"/><circle cx="99.4" cy="99.0" r="1.75"/><circle cx="104.9" cy="101.5" r="1.75"/><circle cx="110.3" cy="101.8" r="1.75"/><circle cx="115.6" cy="102.0" r="1.75"/><circle cx="121.0" cy="101.0" r="1.75"/><circle cx="104.9" cy="104.5" r="1.75"/><circle cx="110.3" cy="107.3" r="1.75"/><circle cx="115.6" cy="108.9" r="1.75"/><circle cx="110.3" cy="113.7" r="1.75"/></g>
<path fill="#000" d="M147.75,50.76L151.65,50.76L149.70,47.24ZM158.25,50.46L162.15,50.46L160.20,46.95ZM153.15,55.05L157.05,55.05L155.10,51.54ZM142.35,58.05L146.25,58.05L144.30,54.54ZM147.75,58.05L151.65,58.05L149.70,54.54ZM153.15,60.66L157.05,60.66L155.10,57.14ZM158.45,58.26L162.35,58.26L160.40,54.74ZM163.75,58.05L167.65,58.05L165.70,54.54ZM147.75,66.16L151.65,66.16L149.70,62.65ZM153.15,66.16L157.05,66.16L155.10,62.65ZM158.45,64.95L162.35,64.95L160.40,61.45ZM147.75,81.45L151.65,81.45L149.70,77.95ZM153.15,85.95L157.05,85.95L155.10,82.45ZM158.45,83.66L162.35,83.66L160.40,80.15ZM147.75,92.35L151.65,92.35L149.70,88.84ZM153.15,97.16L157.05,97.16L155.10,93.65ZM147.75,103.95L151.65,103.95L149.70,100.45ZM153.15,106.55L157.05,106.55L155.10,103.05ZM158.45,105.75L162.35,105.75L160.40,102.25ZM147.75,111.66L151.65,111.66L149.70,108.15ZM153.15,114.75L157.05,114.75L155.10,111.25ZM153.15,120.55L157.05,120.55L155.10,117.05ZM158.45,119.16L162.35,119.16L160.40,115.65Z"/>
<path d="M219.5,122.2H248.0" stroke="#5a5a5a" stroke-width="1.0"/>
<path d="M262.7,110.3H292.7" stroke="#5a5a5a" stroke-width="1.0"/>
<path d="M306.6,81.2H336.0" stroke="#5a5a5a" stroke-width="1.0"/>
<path fill="#000" d="M220.70,120.88L224.30,120.88L222.50,124.12ZM224.20,119.88L227.80,119.88L226.00,123.12ZM227.70,120.88L231.30,120.88L229.50,124.12ZM231.20,119.38L234.80,119.38L233.00,122.62ZM234.70,120.88L238.30,120.88L236.50,124.12ZM238.20,119.88L241.80,119.88L240.00,123.12ZM241.70,120.88L245.30,120.88L243.50,124.12ZM229.20,121.88L232.80,121.88L231.00,125.12ZM236.20,121.88L239.80,121.88L238.00,125.12ZM231.70,118.18L235.30,118.18L233.50,121.42Z"/>
<g fill="#000"><circle cx="277.3" cy="67.1" r="1.75"/><circle cx="272.0" cy="71.8" r="1.75"/><circle cx="277.3" cy="73.0" r="1.75"/><circle cx="277.3" cy="81.3" r="1.75"/><circle cx="277.3" cy="90.8" r="1.75"/><circle cx="272.2" cy="94.3" r="1.75"/><circle cx="282.6" cy="97.2" r="1.75"/><circle cx="277.3" cy="99.1" r="1.75"/><circle cx="272.2" cy="103.0" r="1.75"/><circle cx="288.0" cy="103.4" r="1.75"/><circle cx="267.1" cy="105.4" r="1.75"/><circle cx="272.2" cy="106.9" r="1.75"/><circle cx="277.3" cy="107.3" r="1.75"/><circle cx="282.6" cy="106.2" r="1.75"/><circle cx="267.1" cy="111.3" r="1.75"/><circle cx="272.2" cy="112.0" r="1.75"/><circle cx="274.7" cy="109.7" r="1.75"/><circle cx="277.3" cy="111.3" r="1.75"/><circle cx="280.1" cy="110.5" r="1.75"/><circle cx="282.6" cy="112.0" r="1.75"/><circle cx="288.0" cy="111.3" r="1.75"/><circle cx="267.1" cy="116.8" r="1.75"/><circle cx="269.8" cy="115.2" r="1.75"/><circle cx="272.2" cy="117.6" r="1.75"/><circle cx="274.7" cy="115.2" r="1.75"/><circle cx="277.3" cy="113.6" r="1.75"/><circle cx="280.1" cy="115.2" r="1.75"/><circle cx="282.6" cy="116.8" r="1.75"/><circle cx="285.2" cy="115.2" r="1.75"/><circle cx="288.0" cy="118.0" r="1.75"/><circle cx="267.1" cy="122.3" r="1.75"/><circle cx="272.2" cy="123.1" r="1.75"/><circle cx="274.7" cy="120.7" r="1.75"/><circle cx="277.3" cy="120.0" r="1.75"/><circle cx="280.1" cy="120.7" r="1.75"/><circle cx="282.6" cy="120.0" r="1.75"/><circle cx="285.2" cy="121.5" r="1.75"/><circle cx="288.0" cy="122.7" r="1.75"/><circle cx="277.3" cy="124.7" r="1.75"/><circle cx="282.6" cy="124.3" r="1.75"/><circle cx="269.8" cy="119.5" r="1.75"/><circle cx="285.2" cy="118.8" r="1.75"/><circle cx="274.7" cy="118.4" r="1.75"/><circle cx="280.1" cy="118.4" r="1.75"/><circle cx="272.2" cy="120.2" r="1.75"/><circle cx="282.6" cy="118.2" r="1.75"/><circle cx="277.3" cy="116.6" r="1.75"/><circle cx="277.3" cy="122.4" r="1.75"/></g>
<path fill="#000" d="M309.15,54.96L313.05,54.96L311.10,51.45ZM314.45,54.46L318.35,54.46L316.40,50.95ZM314.45,56.46L318.35,56.46L316.40,52.95ZM319.85,54.46L323.75,54.46L321.80,50.95ZM325.25,54.46L329.15,54.46L327.20,50.95ZM325.25,55.96L329.15,55.96L327.20,52.45ZM330.45,53.96L334.35,53.96L332.40,50.45ZM319.85,59.46L323.75,59.46L321.80,55.95ZM319.85,70.66L323.75,70.66L321.80,67.15ZM319.85,76.16L323.75,76.16L321.80,72.65ZM319.85,85.35L323.75,85.35L321.80,81.84ZM314.45,88.85L318.35,88.85L316.40,85.34ZM319.85,92.45L323.75,92.45L321.80,88.95ZM325.25,98.95L329.15,98.95L327.20,95.45ZM319.85,101.55L323.75,101.55L321.80,98.05ZM319.85,117.55L323.75,117.55L321.80,114.05ZM309.15,121.75L313.05,121.75L311.10,118.25ZM330.45,123.35L334.35,123.35L332.40,119.84ZM314.45,124.85L318.35,124.85L316.40,121.34ZM319.85,126.05L323.75,126.05L321.80,122.55ZM325.25,125.85L329.15,125.85L327.20,122.34Z"/>
<path d="M393.4,113.7H421.8" stroke="#5a5a5a" stroke-width="1.0"/>
<path d="M437.2,89.4H467.0" stroke="#5a5a5a" stroke-width="1.0"/>
<path d="M481.1,70.3H511.0" stroke="#5a5a5a" stroke-width="1.0"/>
<path fill="#000" d="M406.45,103.03L410.15,103.03L408.30,106.37ZM395.35,111.73L399.05,111.73L397.20,115.07ZM398.15,111.93L401.85,111.93L400.00,115.27ZM400.75,111.73L404.45,111.73L402.60,115.07ZM403.45,111.93L407.15,111.93L405.30,115.27ZM406.15,111.73L409.85,111.73L408.00,115.07ZM408.85,111.93L412.55,111.93L410.70,115.27ZM411.55,111.73L415.25,111.73L413.40,115.07ZM414.25,111.93L417.95,111.93L416.10,115.27ZM416.95,111.73L420.65,111.73L418.80,115.07ZM400.75,114.53L404.45,114.53L402.60,117.87ZM406.15,115.53L409.85,115.53L408.00,118.87ZM411.55,115.13L415.25,115.13L413.40,118.47Z"/>
<g fill="#000"><circle cx="446.5" cy="56.7" r="1.75"/><circle cx="451.9" cy="56.9" r="1.75"/><circle cx="457.3" cy="68.0" r="1.75"/><circle cx="451.9" cy="72.2" r="1.75"/><circle cx="457.3" cy="74.3" r="1.75"/><circle cx="446.5" cy="78.4" r="1.75"/><circle cx="451.9" cy="78.2" r="1.75"/><circle cx="446.5" cy="81.8" r="1.75"/><circle cx="457.3" cy="81.8" r="1.75"/><circle cx="451.9" cy="84.0" r="1.75"/><circle cx="451.9" cy="91.2" r="1.75"/><circle cx="451.9" cy="97.3" r="1.75"/><circle cx="451.9" cy="113.7" r="1.75"/><circle cx="462.5" cy="116.1" r="1.75"/><circle cx="446.5" cy="118.5" r="1.75"/><circle cx="451.9" cy="120.3" r="1.75"/><circle cx="457.3" cy="120.3" r="1.75"/></g>
<path fill="#000" d="M499.15,43.86L503.05,43.86L501.10,40.34ZM488.75,46.36L492.65,46.36L490.70,42.84ZM494.05,48.76L497.95,48.76L496.00,45.24ZM483.45,49.76L487.35,49.76L485.40,46.24ZM504.75,50.46L508.65,50.46L506.70,46.95ZM488.75,52.46L492.65,52.46L490.70,48.95ZM494.05,53.96L497.95,53.96L496.00,50.45ZM499.45,53.46L503.35,53.46L501.40,49.95ZM488.75,60.55L492.65,60.55L490.70,57.04ZM494.05,62.26L497.95,62.26L496.00,58.74ZM499.45,59.86L503.35,59.86L501.40,56.34ZM488.75,65.66L492.65,65.66L490.70,62.14ZM499.45,65.66L503.35,65.66L501.40,62.14ZM494.05,68.66L497.95,68.66L496.00,65.15ZM499.45,71.45L503.35,71.45L501.40,67.95ZM488.75,74.25L492.65,74.25L490.70,70.75ZM494.05,75.75L497.95,75.75L496.00,72.25ZM499.45,82.85L503.35,82.85L501.40,79.34ZM494.05,87.75L497.95,87.75L496.00,84.25ZM494.05,114.55L497.95,114.55L496.00,111.05ZM488.75,122.66L492.65,122.66L490.70,119.15ZM499.45,122.66L503.35,122.66L501.40,119.15ZM494.05,125.16L497.95,125.16L496.00,121.65Z"/>
<path d="M49.7,247.3H79.5" stroke="#5a5a5a" stroke-width="1.0"/>
<path d="M93.4,213.7H122.3" stroke="#5a5a5a" stroke-width="1.0"/>
<path d="M136.8,197.2H165.2" stroke="#5a5a5a" stroke-width="1.0"/>
<path fill="#000" d="M50.20,245.68L53.80,245.68L52.00,248.92ZM53.70,244.88L57.30,244.88L55.50,248.12ZM57.20,245.98L60.80,245.98L59.00,249.22ZM60.70,244.38L64.30,244.38L62.50,247.62ZM64.20,245.38L67.80,245.38L66.00,248.62ZM67.70,243.78L71.30,243.78L69.50,247.02ZM71.20,245.78L74.80,245.78L73.00,249.02ZM74.70,245.18L78.30,245.18L76.50,248.42ZM62.70,243.18L66.30,243.18L64.50,246.42ZM56.20,243.68L59.80,243.68L58.00,246.92Z"/>
<g fill="#000"><circle cx="107.5" cy="171.6" r="1.75"/><circle cx="112.9" cy="177.3" r="1.75"/><circle cx="102.5" cy="180.0" r="1.75"/><circle cx="107.5" cy="181.0" r="1.75"/><circle cx="112.9" cy="186.2" r="1.75"/><circle cx="97.4" cy="190.9" r="1.75"/><circle cx="107.5" cy="189.4" r="1.75"/><circle cx="112.9" cy="191.4" r="1.75"/><circle cx="102.5" cy="195.3" r="1.75"/><circle cx="107.5" cy="195.7" r="1.75"/><circle cx="102.5" cy="201.4" r="1.75"/><circle cx="107.5" cy="205.4" r="1.75"/><circle cx="112.9" cy="204.3" r="1.75"/><circle cx="97.4" cy="207.8" r="1.75"/><circle cx="102.5" cy="210.0" r="1.75"/><circle cx="112.9" cy="208.4" r="1.75"/><circle cx="107.5" cy="212.4" r="1.75"/><circle cx="112.9" cy="220.4" r="1.75"/><circle cx="107.5" cy="223.6" r="1.75"/><circle cx="112.9" cy="225.7" r="1.75"/><circle cx="102.5" cy="228.0" r="1.75"/><circle cx="107.5" cy="231.1" r="1.75"/><circle cx="107.5" cy="236.8" r="1.75"/><circle cx="102.5" cy="240.7" r="1.75"/><circle cx="112.9" cy="239.6" r="1.75"/><circle cx="107.5" cy="241.8" r="1.75"/><circle cx="97.4" cy="243.5" r="1.75"/><circle cx="102.5" cy="246.4" r="1.75"/><circle cx="112.9" cy="246.4" r="1.75"/><circle cx="118.2" cy="244.3" r="1.75"/><circle cx="107.5" cy="248.3" r="1.75"/></g>
<path fill="#000" d="M159.75,170.45L163.65,170.45L161.70,166.94ZM143.75,174.95L147.65,174.95L145.70,171.44ZM149.15,175.66L153.05,175.66L151.10,172.15ZM154.45,175.66L158.35,175.66L156.40,172.15ZM138.65,179.85L142.55,179.85L140.60,176.34ZM143.75,181.35L147.65,181.35L145.70,177.84ZM154.45,181.16L158.35,181.16L156.40,177.65ZM159.75,178.85L163.65,178.85L161.70,175.34ZM149.15,183.56L153.05,183.56L151.10,180.05ZM143.75,187.35L147.65,187.35L145.70,183.84ZM149.15,188.85L153.05,188.85L151.10,185.34ZM154.45,188.45L158.35,188.45L156.40,184.94ZM159.75,186.75L163.65,186.75L161.70,183.25ZM143.75,199.35L147.65,199.35L145.70,195.84ZM143.75,200.95L147.65,200.95L145.70,197.44ZM149.15,199.95L153.05,199.95L151.10,196.44ZM149.15,204.95L153.05,204.95L151.10,201.44ZM154.45,203.45L158.35,203.45L156.40,199.94ZM143.75,239.06L147.65,239.06L145.70,235.55ZM149.15,240.35L153.05,240.35L151.10,236.84ZM143.75,247.35L147.65,247.35L145.70,243.84ZM149.15,248.85L153.05,248.85L151.10,245.34ZM154.45,248.16L158.35,248.16L156.40,244.65Z"/>
<path d="M218.8,248.5H245.7" stroke="#5a5a5a" stroke-width="1.0"/>
<path d="M262.7,233.4H291.8" stroke="#5a5a5a" stroke-width="1.0"/>
<path d="M306.2,215.8H336.3" stroke="#5a5a5a" stroke-width="1.0"/>
<path fill="#000" d="M219.20,246.98L222.80,246.98L221.00,250.22ZM222.70,246.18L226.30,246.18L224.50,249.42ZM226.20,247.18L229.80,247.18L228.00,250.42ZM229.70,245.98L233.30,245.98L231.50,249.22ZM233.20,246.98L236.80,246.98L235.00,250.22ZM236.70,245.98L240.30,245.98L238.50,249.22ZM240.20,246.98L243.80,246.98L242.00,250.22ZM231.20,245.18L234.80,245.18L233.00,248.42ZM224.20,245.38L227.80,245.38L226.00,248.62ZM238.20,245.58L241.80,245.58L240.00,248.82Z"/>
<g fill="#000"><circle cx="266.4" cy="190.2" r="1.75"/><circle cx="271.6" cy="192.6" r="1.75"/><circle cx="276.8" cy="193.3" r="1.75"/><circle cx="282.2" cy="192.3" r="1.75"/><circle cx="271.6" cy="199.4" r="1.75"/><circle cx="276.8" cy="200.6" r="1.75"/><circle cx="282.2" cy="200.4" r="1.75"/><circle cx="266.4" cy="214.9" r="1.75"/><circle cx="271.6" cy="218.9" r="1.75"/><circle cx="276.8" cy="219.1" r="1.75"/><circle cx="282.2" cy="217.5" r="1.75"/><circle cx="276.8" cy="224.5" r="1.75"/><circle cx="282.2" cy="223.4" r="1.75"/><circle cx="271.1" cy="244.6" r="1.75"/><circle cx="276.6" cy="243.3" r="1.75"/><circle cx="282.1" cy="244.6" r="1.75"/><circle cx="266.2" cy="246.4" r="1.75"/><circle cx="287.8" cy="246.4" r="1.75"/><circle cx="273.8" cy="246.0" r="1.75"/><circle cx="279.4" cy="246.0" r="1.75"/><circle cx="265.5" cy="247.7" r="1.75"/><circle cx="268.1" cy="247.7" r="1.75"/><circle cx="270.8" cy="247.7" r="1.75"/><circle cx="273.4" cy="247.7" r="1.75"/><circle cx="276.1" cy="247.7" r="1.75"/><circle cx="278.8" cy="247.7" r="1.75"/><circle cx="281.4" cy="247.7" r="1.75"/><circle cx="284.1" cy="247.7" r="1.75"/><circle cx="286.7" cy="247.7" r="1.75"/><circle cx="289.4" cy="247.7" r="1.75"/></g>
<path fill="#000" d="M319.35,181.35L323.25,181.35L321.30,177.84ZM314.15,191.56L318.05,191.56L316.10,188.05ZM324.85,191.95L328.75,191.95L326.80,188.44ZM330.05,189.95L333.95,189.95L332.00,186.44ZM319.35,194.35L323.25,194.35L321.30,190.84ZM314.15,202.95L318.05,202.95L316.10,199.44ZM324.85,201.95L328.75,201.95L326.80,198.44ZM319.35,205.75L323.25,205.75L321.30,202.25ZM314.15,209.25L318.05,209.25L316.10,205.75ZM324.85,209.95L328.75,209.95L326.80,206.44ZM319.35,214.06L323.25,214.06L321.30,210.55ZM324.85,217.95L328.75,217.95L326.80,214.44ZM314.15,220.85L318.05,220.85L316.10,217.34ZM319.35,221.06L323.25,221.06L321.30,217.55ZM324.85,224.45L328.75,224.45L326.80,220.94ZM319.35,228.95L323.25,228.95L321.30,225.44ZM324.85,231.25L328.75,231.25L326.80,227.75ZM314.15,233.45L318.05,233.45L316.10,229.94ZM319.35,234.35L323.25,234.35L321.30,230.84ZM313.65,250.45L317.55,250.45L315.60,246.94ZM319.35,251.35L323.25,251.35L321.30,247.84ZM324.85,251.16L328.75,251.16L326.80,247.65ZM330.05,250.45L333.95,250.45L332.00,246.94Z"/>
<path d="M392.7,241.3H423.0" stroke="#5a5a5a" stroke-width="1.0"/>
<path d="M437.9,201.9H467.3" stroke="#5a5a5a" stroke-width="1.0"/>
<path d="M481.9,191.0H511.9" stroke="#5a5a5a" stroke-width="1.0"/>
<path fill="#000" d="M405.95,227.34L409.65,227.34L407.80,230.66ZM400.55,234.74L404.25,234.74L402.40,238.06ZM405.95,236.44L409.65,236.44L407.80,239.76ZM403.45,238.94L407.15,238.94L405.30,242.26ZM409.05,239.14L412.75,239.14L410.90,242.47ZM395.25,242.14L398.95,242.14L397.10,245.47ZM400.55,242.84L404.25,242.84L402.40,246.16ZM405.95,243.53L409.65,243.53L407.80,246.86ZM411.35,243.24L415.05,243.24L413.20,246.56ZM416.75,242.53L420.45,242.53L418.60,245.86Z"/>
<g fill="#000"><circle cx="451.8" cy="173.0" r="1.75"/><circle cx="446.6" cy="181.1" r="1.75"/><circle cx="452.3" cy="183.4" r="1.75"/><circle cx="457.5" cy="182.2" r="1.75"/><circle cx="463.0" cy="181.1" r="1.75"/><circle cx="441.4" cy="187.3" r="1.75"/><circle cx="446.6" cy="190.3" r="1.75"/><circle cx="452.3" cy="192.0" r="1.75"/><circle cx="457.5" cy="189.1" r="1.75"/><circle cx="452.3" cy="205.9" r="1.75"/><circle cx="446.6" cy="210.2" r="1.75"/><circle cx="452.3" cy="211.4" r="1.75"/><circle cx="457.5" cy="208.1" r="1.75"/><circle cx="452.3" cy="218.8" r="1.75"/><circle cx="452.3" cy="229.6" r="1.75"/><circle cx="457.5" cy="244.8" r="1.75"/><circle cx="452.3" cy="249.1" r="1.75"/></g>
<path fill="#000" d="M483.95,175.16L487.85,175.16L485.90,171.65ZM489.55,175.85L493.45,175.85L491.50,172.34ZM494.95,176.25L498.85,176.25L496.90,172.75ZM500.25,175.16L504.15,175.16L502.20,171.65ZM505.65,174.56L509.55,174.56L507.60,171.05ZM489.55,179.95L493.45,179.95L491.50,176.44ZM494.95,181.56L498.85,181.56L496.90,178.05ZM500.25,180.85L504.15,180.85L502.20,177.34ZM483.95,184.25L487.85,184.25L485.90,180.75ZM489.55,184.75L493.45,184.75L491.50,181.25ZM500.25,184.45L504.15,184.45L502.20,180.94ZM494.95,187.25L498.85,187.25L496.90,183.75ZM494.95,192.75L498.85,192.75L496.90,189.25ZM489.55,199.75L493.45,199.75L491.50,196.25ZM494.95,199.75L498.85,199.75L496.90,196.25ZM505.65,203.75L509.55,203.75L507.60,200.25ZM489.55,205.66L493.45,205.66L491.50,202.15ZM500.25,206.16L504.15,206.16L502.20,202.65ZM494.95,208.06L498.85,208.06L496.90,204.55ZM494.95,213.16L498.85,213.16L496.90,209.65ZM489.55,216.35L493.45,216.35L491.50,212.84ZM500.25,216.85L504.15,216.85L502.20,213.34ZM494.95,220.16L498.85,220.16L496.90,216.65Z"/>
<path d="M49.7,371.8H78.2" stroke="#5a5a5a" stroke-width="1.0"/>
<path d="M93.1,359.9H122.9" stroke="#5a5a5a" stroke-width="1.0"/>
<path d="M137.4,357.2H167.2" stroke="#5a5a5a" stroke-width="1.0"/>
<path fill="#000" d="M61.40,362.38L65.00,362.38L63.20,365.62ZM49.70,368.98L53.30,368.98L51.50,372.22ZM53.20,369.78L56.80,369.78L55.00,373.02ZM56.70,368.98L60.30,368.98L58.50,372.22ZM60.20,369.78L63.80,369.78L62.00,373.02ZM63.70,368.98L67.30,368.98L65.50,372.22ZM67.20,369.78L70.80,369.78L69.00,373.02ZM70.70,368.98L74.30,368.98L72.50,372.22ZM73.70,369.58L77.30,369.58L75.50,372.82ZM58.70,370.58L62.30,370.58L60.50,373.82ZM65.20,370.58L68.80,370.58L67.00,373.82Z"/>
<g fill="#000"><circle cx="107.6" cy="320.2" r="1.75"/><circle cx="107.6" cy="334.0" r="1.75"/><circle cx="118.3" cy="352.3" r="1.75"/><circle cx="102.5" cy="355.0" r="1.75"/><circle cx="107.7" cy="355.4" r="1.75"/><circle cx="112.9" cy="355.7" r="1.75"/><circle cx="119.8" cy="357.5" r="1.75"/><circle cx="101.1" cy="357.5" r="1.75"/><circle cx="105.6" cy="356.8" r="1.75"/><circle cx="107.7" cy="367.5" r="1.75"/><circle cx="95.5" cy="359.6" r="1.75"/><circle cx="99.0" cy="359.6" r="1.75"/><circle cx="102.5" cy="359.6" r="1.75"/><circle cx="106.0" cy="359.6" r="1.75"/><circle cx="109.5" cy="359.6" r="1.75"/><circle cx="113.0" cy="359.6" r="1.75"/><circle cx="116.5" cy="359.6" r="1.75"/><circle cx="120.0" cy="359.6" r="1.75"/><circle cx="97.1" cy="361.8" r="1.75"/><circle cx="100.6" cy="361.8" r="1.75"/><circle cx="104.1" cy="361.8" r="1.75"/><circle cx="107.6" cy="361.8" r="1.75"/><circle cx="111.1" cy="361.8" r="1.75"/><circle cx="114.6" cy="361.8" r="1.75"/><circle cx="118.1" cy="361.8" r="1.75"/><circle cx="121.6" cy="361.8" r="1.75"/><circle cx="95.5" cy="364.0" r="1.75"/><circle cx="99.0" cy="364.0" r="1.75"/><circle cx="102.5" cy="364.0" r="1.75"/><circle cx="106.0" cy="364.0" r="1.75"/><circle cx="109.5" cy="364.0" r="1.75"/><circle cx="113.0" cy="364.0" r="1.75"/><circle cx="116.5" cy="364.0" r="1.75"/><circle cx="120.0" cy="364.0" r="1.75"/></g>
<path fill="#000" d="M145.15,308.56L149.05,308.56L147.10,305.05ZM150.35,312.06L154.25,312.06L152.30,308.55ZM155.85,310.56L159.75,310.56L157.80,307.05ZM144.95,340.56L148.85,340.56L146.90,337.05ZM150.35,342.75L154.25,342.75L152.30,339.25ZM155.85,340.56L159.75,340.56L157.80,337.05ZM150.35,355.95L154.25,355.95L152.30,352.44ZM145.15,368.36L149.05,368.36L147.10,364.85ZM150.35,368.95L154.25,368.95L152.30,365.44ZM155.85,367.36L159.75,367.36L157.80,363.85ZM143.45,371.15L147.35,371.15L145.40,367.64ZM148.35,371.15L152.25,371.15L150.30,367.64ZM152.85,371.65L156.75,371.65L154.80,368.14ZM157.25,371.65L161.15,371.65L159.20,368.14ZM139.45,373.56L143.35,373.56L141.40,370.05ZM143.95,373.86L147.85,373.86L145.90,370.35ZM150.35,374.06L154.25,374.06L152.30,370.55ZM154.85,373.56L158.75,373.56L156.80,370.05ZM159.25,373.56L163.15,373.56L161.20,370.05ZM161.75,373.86L165.65,373.86L163.70,370.35ZM141.45,372.56L145.35,372.56L143.40,369.05ZM146.35,372.56L150.25,372.56L148.30,369.05ZM158.75,372.56L162.65,372.56L160.70,369.05Z"/>
<path d="M216.7,373.1H246.1" stroke="#5a5a5a" stroke-width="1.0"/>
<path d="M261.7,365.7H291.1" stroke="#5a5a5a" stroke-width="1.0"/>
<path d="M306.6,363.5H336.9" stroke="#5a5a5a" stroke-width="1.0"/>
<g fill="#000"><circle cx="219.5" cy="373.2" r="1.5"/><circle cx="222.5" cy="372.0" r="1.5"/><circle cx="225.5" cy="373.6" r="1.5"/><circle cx="228.5" cy="371.6" r="1.5"/><circle cx="231.5" cy="373.4" r="1.5"/><circle cx="234.5" cy="371.8" r="1.5"/><circle cx="237.5" cy="373.6" r="1.5"/><circle cx="240.5" cy="372.4" r="1.5"/><circle cx="226.5" cy="370.8" r="1.5"/><circle cx="234.0" cy="370.6" r="1.5"/></g>
<path fill="#000" d="M269.25,292.36L273.15,292.36L271.20,288.85ZM274.45,292.36L278.35,292.36L276.40,288.85ZM280.15,292.36L284.05,292.36L282.10,288.85ZM274.05,346.36L277.95,346.36L276.00,342.85ZM268.75,352.36L272.65,352.36L270.70,348.85ZM274.05,355.86L277.95,355.86L276.00,352.35ZM274.05,365.06L277.95,365.06L276.00,361.55ZM279.65,365.06L283.55,365.06L281.60,361.55ZM263.35,370.75L267.25,370.75L265.30,367.25ZM268.95,370.75L272.85,370.75L270.90,367.25ZM274.65,370.75L278.55,370.75L276.60,367.25ZM280.25,370.75L284.15,370.75L282.20,367.25ZM285.15,370.75L289.05,370.75L287.10,367.25ZM263.35,373.36L267.25,373.36L265.30,369.85ZM268.95,373.36L272.85,373.36L270.90,369.85ZM274.65,373.36L278.55,373.36L276.60,369.85ZM280.25,373.36L284.15,373.36L282.20,369.85ZM285.15,373.36L289.05,373.36L287.10,369.85ZM263.35,375.95L267.25,375.95L265.30,372.44ZM268.95,375.95L272.85,375.95L270.90,372.44ZM274.65,375.95L278.55,375.95L276.60,372.44ZM280.25,375.95L284.15,375.95L282.20,372.44ZM285.15,375.95L289.05,375.95L287.10,372.44Z"/>
<path fill="#000" d="M319.85,294.35L323.75,294.35L321.80,297.86ZM319.85,318.75L323.75,318.75L321.80,322.25ZM319.85,334.64L323.75,334.64L321.80,338.15ZM314.25,341.14L318.15,341.14L316.20,344.65ZM319.85,346.55L323.75,346.55L321.80,350.06ZM325.25,353.85L329.15,353.85L327.20,357.36ZM319.85,359.25L323.75,359.25L321.80,362.75ZM319.85,367.14L323.75,367.14L321.80,370.65ZM307.55,369.85L311.45,369.85L309.50,373.36ZM311.55,370.64L315.45,370.64L313.50,374.15ZM315.55,370.05L319.45,370.05L317.50,373.56ZM319.85,369.44L323.75,369.44L321.80,372.95ZM323.55,370.64L327.45,370.64L325.50,374.15ZM327.55,370.05L331.45,370.05L329.50,373.56ZM331.85,369.64L335.75,369.64L333.80,373.15ZM313.55,372.25L317.45,372.25L315.50,375.75ZM319.85,372.44L323.75,372.44L321.80,375.95ZM325.55,372.25L329.45,372.25L327.50,375.75Z"/>
<path d="M391.2,373.8H420.0" stroke="#5a5a5a" stroke-width="1.0"/>
<path d="M434.0,359.2H462.3" stroke="#5a5a5a" stroke-width="1.0"/>
<path d="M476.2,336.5H505.3" stroke="#5a5a5a" stroke-width="1.0"/>
<path fill="#000" d="M403.55,353.63L407.25,353.63L405.40,356.97ZM403.55,368.63L407.25,368.63L405.40,371.97ZM392.65,373.53L396.35,373.53L394.50,376.87ZM395.40,373.53L399.10,373.53L397.25,376.87ZM398.15,373.53L401.85,373.53L400.00,376.87ZM400.90,373.53L404.60,373.53L402.75,376.87ZM403.65,373.53L407.35,373.53L405.50,376.87ZM406.40,373.53L410.10,373.53L408.25,376.87ZM409.15,373.53L412.85,373.53L411.00,376.87ZM411.90,373.53L415.60,373.53L413.75,376.87ZM414.65,373.53L418.35,373.53L416.50,376.87ZM394.02,374.94L397.72,374.94L395.87,378.27ZM396.77,374.94L400.47,374.94L398.62,378.27ZM399.52,374.94L403.22,374.94L401.37,378.27ZM402.27,374.94L405.97,374.94L404.12,378.27ZM405.02,374.94L408.72,374.94L406.87,378.27ZM407.77,374.94L411.47,374.94L409.62,378.27ZM410.52,374.94L414.22,374.94L412.37,378.27ZM413.27,374.94L416.97,374.94L415.12,378.27Z"/>
<g fill="#000"><circle cx="448.0" cy="304.7" r="1.75"/><circle cx="442.8" cy="309.9" r="1.75"/><circle cx="448.0" cy="311.1" r="1.75"/><circle cx="447.9" cy="326.2" r="1.75"/><circle cx="437.5" cy="330.8" r="1.75"/><circle cx="442.9" cy="333.0" r="1.75"/><circle cx="447.9" cy="334.4" r="1.75"/><circle cx="453.2" cy="332.3" r="1.75"/><circle cx="458.3" cy="329.8" r="1.75"/><circle cx="442.9" cy="337.8" r="1.75"/><circle cx="453.2" cy="341.0" r="1.75"/><circle cx="447.9" cy="343.1" r="1.75"/><circle cx="442.9" cy="347.2" r="1.75"/><circle cx="450.6" cy="347.2" r="1.75"/><circle cx="437.5" cy="350.0" r="1.75"/><circle cx="437.5" cy="351.6" r="1.75"/><circle cx="442.9" cy="350.6" r="1.75"/><circle cx="445.5" cy="351.0" r="1.75"/><circle cx="447.9" cy="350.6" r="1.75"/><circle cx="450.6" cy="350.6" r="1.75"/><circle cx="453.2" cy="350.3" r="1.75"/><circle cx="458.3" cy="348.7" r="1.75"/><circle cx="458.3" cy="351.9" r="1.75"/><circle cx="442.9" cy="355.1" r="1.75"/><circle cx="447.9" cy="355.8" r="1.75"/><circle cx="453.2" cy="355.6" r="1.75"/><circle cx="437.5" cy="357.0" r="1.75"/><circle cx="437.5" cy="358.6" r="1.75"/><circle cx="442.9" cy="359.0" r="1.75"/><circle cx="450.6" cy="358.0" r="1.75"/><circle cx="458.3" cy="359.2" r="1.75"/><circle cx="447.9" cy="360.9" r="1.75"/><circle cx="453.2" cy="360.4" r="1.75"/><circle cx="442.9" cy="361.3" r="1.75"/><circle cx="450.6" cy="362.8" r="1.75"/><circle cx="437.5" cy="363.8" r="1.75"/><circle cx="442.9" cy="365.2" r="1.75"/><circle cx="453.2" cy="366.6" r="1.75"/><circle cx="458.3" cy="365.2" r="1.75"/><circle cx="447.9" cy="367.1" r="1.75"/><circle cx="437.5" cy="369.0" r="1.75"/><circle cx="437.5" cy="370.6" r="1.75"/><circle cx="445.5" cy="368.6" r="1.75"/><circle cx="450.6" cy="368.1" r="1.75"/><circle cx="442.9" cy="370.0" r="1.75"/><circle cx="442.9" cy="372.4" r="1.75"/><circle cx="453.2" cy="371.9" r="1.75"/><circle cx="458.3" cy="370.0" r="1.75"/><circle cx="447.9" cy="372.9" r="1.75"/><circle cx="436.5" cy="374.3" r="1.75"/><circle cx="459.4" cy="374.8" r="1.75"/><circle cx="439.5" cy="376.6" r="1.75"/><circle cx="443.5" cy="376.8" r="1.75"/><circle cx="447.9" cy="376.2" r="1.75"/><circle cx="452.0" cy="376.8" r="1.75"/><circle cx="456.0" cy="376.6" r="1.75"/></g>
<path fill="#000" d="M478.45,298.86L482.35,298.86L480.40,295.35ZM483.65,300.25L487.55,300.25L485.60,296.75ZM486.55,298.15L490.45,298.15L488.50,294.64ZM488.85,302.15L492.75,302.15L490.80,298.64ZM491.75,298.45L495.65,298.45L493.70,294.94ZM493.95,301.06L497.85,301.06L495.90,297.55ZM496.55,298.15L500.45,298.15L498.50,294.64ZM499.15,299.06L503.05,299.06L501.10,295.55ZM488.85,315.15L492.75,315.15L490.80,311.64ZM488.85,326.25L492.75,326.25L490.80,322.75ZM483.65,333.25L487.55,333.25L485.60,329.75ZM488.85,333.25L492.75,333.25L490.80,329.75ZM488.85,343.65L492.75,343.65L490.80,340.14ZM488.85,358.65L492.75,358.65L490.80,355.14ZM493.95,363.86L497.85,363.86L495.90,360.35ZM488.85,365.65L492.75,365.65L490.80,362.14ZM488.85,374.25L492.75,374.25L490.80,370.75ZM491.45,375.86L495.35,375.86L493.40,372.35ZM478.45,377.75L482.35,377.75L480.40,374.25ZM483.65,377.86L487.55,377.86L485.60,374.35ZM493.95,378.65L497.85,378.65L495.90,375.14ZM498.95,378.45L502.85,378.45L500.90,374.94ZM488.85,379.25L492.75,379.25L490.80,375.75Z"/>
<path d="M43.8,500.2H74.6" stroke="#5a5a5a" stroke-width="1.0"/>
<path d="M89.8,480.4H120.9" stroke="#5a5a5a" stroke-width="1.0"/>
<path d="M135.8,447.0H166.4" stroke="#5a5a5a" stroke-width="1.0"/>
<path fill="#000" d="M57.80,490.10h3.2v3.2h-3.2ZM46.90,499.60h3.2v3.2h-3.2ZM50.00,499.60h3.2v3.2h-3.2ZM53.10,499.60h3.2v3.2h-3.2ZM56.20,499.60h3.2v3.2h-3.2ZM59.30,499.60h3.2v3.2h-3.2ZM62.40,499.60h3.2v3.2h-3.2ZM65.50,499.60h3.2v3.2h-3.2ZM68.60,499.60h3.2v3.2h-3.2ZM49.20,498.00h3.2v3.2h-3.2ZM58.40,497.30h3.2v3.2h-3.2ZM63.00,498.20h3.2v3.2h-3.2ZM53.80,498.30h3.2v3.2h-3.2ZM67.60,498.30h3.2v3.2h-3.2Z"/>
<path fill="#000" d="M109.15,450.65L113.05,450.65L111.10,447.14ZM103.45,454.15L107.35,454.15L105.40,450.64ZM92.15,463.65L96.05,463.65L94.10,460.14ZM97.85,466.25L101.75,466.25L99.80,462.75ZM103.45,467.15L107.35,467.15L105.40,463.64ZM109.15,464.06L113.05,464.06L111.10,460.55ZM97.85,485.36L101.75,485.36L99.80,481.85ZM103.45,487.95L107.35,487.95L105.40,484.44ZM109.15,487.95L113.05,487.95L111.10,484.44ZM97.85,489.95L101.75,489.95L99.80,486.44ZM109.15,489.95L113.05,489.95L111.10,486.44ZM103.45,493.45L107.35,493.45L105.40,489.94ZM97.85,502.65L101.75,502.65L99.80,499.14ZM103.45,503.45L107.35,503.45L105.40,499.94ZM109.15,503.45L113.05,503.45L111.10,499.94ZM114.65,502.06L118.55,502.06L116.60,498.55Z"/>
<path fill="#000" d="M137.95,413.14L141.85,413.14L139.90,416.65ZM143.45,412.44L147.35,412.44L145.40,415.95ZM143.45,415.05L147.35,415.05L145.40,418.56ZM148.95,416.44L152.85,416.44L150.90,419.95ZM154.35,414.85L158.25,414.85L156.30,418.36ZM160.05,412.85L163.95,412.85L162.00,416.36ZM137.95,419.44L141.85,419.44L139.90,422.95ZM146.35,418.64L150.25,418.64L148.30,422.15ZM151.85,419.75L155.75,419.75L153.80,423.25ZM143.45,423.35L147.35,423.35L145.40,426.86ZM148.95,424.14L152.85,424.14L150.90,427.65ZM154.35,423.75L158.25,423.75L156.30,427.25ZM160.05,422.25L163.95,422.25L162.00,425.75ZM148.95,432.35L152.85,432.35L150.90,435.86ZM148.95,454.25L152.85,454.25L150.90,457.75ZM148.95,481.55L152.85,481.55L150.90,485.06ZM148.95,489.05L152.85,489.05L150.90,492.56ZM143.45,494.14L147.35,494.14L145.40,497.65ZM148.95,494.75L152.85,494.75L150.90,498.25ZM143.45,498.05L147.35,498.05L145.40,501.56ZM154.35,498.55L158.25,498.55L156.30,502.06ZM148.95,500.85L152.85,500.85L150.90,504.36Z"/>
<path d="M221.9,495.8H251.2" stroke="#5a5a5a" stroke-width="1.0"/>
<path d="M265.9,484.8H294.5" stroke="#5a5a5a" stroke-width="1.0"/>
<path d="M308.6,481.8H338.5" stroke="#5a5a5a" stroke-width="1.0"/>
<path fill="#000" d="M228.95,487.53L232.65,487.53L230.80,490.87ZM225.45,492.53L229.15,492.53L227.30,495.87ZM228.55,494.13L232.25,494.13L230.40,497.47ZM231.95,492.53L235.65,492.53L233.80,495.87ZM234.65,491.03L238.35,491.03L236.50,494.37ZM236.95,492.94L240.65,492.94L238.80,496.27ZM240.45,493.33L244.15,493.33L242.30,496.67ZM242.75,492.53L246.45,492.53L244.60,495.87ZM245.45,493.73L249.15,493.73L247.30,497.06ZM229.65,496.03L233.35,496.03L231.50,499.37ZM235.05,496.03L238.75,496.03L236.90,499.37ZM239.35,496.03L243.05,496.03L241.20,499.37Z"/>
<g fill="#000"><circle cx="279.4" cy="440.3" r="1.75"/><circle cx="279.4" cy="459.3" r="1.75"/><circle cx="274.2" cy="476.6" r="1.75"/><circle cx="285.0" cy="478.4" r="1.75"/><circle cx="279.4" cy="480.6" r="1.75"/><circle cx="279.4" cy="487.0" r="1.75"/><circle cx="269.4" cy="489.6" r="1.75"/><circle cx="274.2" cy="489.3" r="1.75"/><circle cx="274.2" cy="491.7" r="1.75"/><circle cx="285.0" cy="489.6" r="1.75"/><circle cx="290.2" cy="489.3" r="1.75"/><circle cx="279.4" cy="492.2" r="1.75"/><circle cx="285.0" cy="493.0" r="1.75"/><circle cx="274.2" cy="494.8" r="1.75"/><circle cx="285.0" cy="495.7" r="1.75"/><circle cx="290.2" cy="494.5" r="1.75"/></g>
<path fill="#000" d="M316.45,433.45L320.35,433.45L318.40,429.94ZM321.75,435.65L325.65,435.65L323.70,432.14ZM327.05,431.56L330.95,431.56L329.00,428.05ZM327.05,452.15L330.95,452.15L329.00,448.64ZM321.75,456.86L325.65,456.86L323.70,453.35ZM321.75,469.95L325.65,469.95L323.70,466.44ZM321.75,475.86L325.65,475.86L323.70,472.35ZM316.45,480.75L320.35,480.75L318.40,477.25ZM321.75,483.36L325.65,483.36L323.70,479.85ZM311.55,498.56L315.45,498.56L313.50,495.05ZM315.55,498.56L319.45,498.56L317.50,495.05ZM319.55,498.56L323.45,498.56L321.50,495.05ZM323.55,498.56L327.45,498.56L325.50,495.05ZM327.55,498.56L331.45,498.56L329.50,495.05ZM331.55,498.56L335.45,498.56L333.50,495.05ZM313.05,500.36L316.95,500.36L315.00,496.85ZM317.05,500.36L320.95,500.36L319.00,496.85ZM321.05,500.36L324.95,500.36L323.00,496.85ZM325.05,500.36L328.95,500.36L327.00,496.85ZM329.05,500.36L332.95,500.36L331.00,496.85ZM333.05,500.36L336.95,500.36L335.00,496.85ZM334.05,498.36L337.95,498.36L336.00,494.85ZM318.05,496.95L321.95,496.95L320.00,493.44Z"/>
<path d="M391.9,498.4H421.3" stroke="#5a5a5a" stroke-width="1.0"/>
<path d="M435.2,477.3H463.7" stroke="#5a5a5a" stroke-width="1.0"/>
<path d="M478.3,476.7H507.9" stroke="#5a5a5a" stroke-width="1.0"/>
<path fill="#000" d="M404.30,489.58L407.90,489.58L406.10,492.82ZM399.10,493.88L402.70,493.88L400.90,497.12ZM404.30,494.68L407.90,494.68L406.10,497.92ZM409.50,493.88L413.10,493.88L411.30,497.12ZM393.90,497.88L397.50,497.88L395.70,501.12ZM399.10,498.38L402.70,498.38L400.90,501.62ZM404.30,498.58L407.90,498.58L406.10,501.82ZM409.50,498.38L413.10,498.38L411.30,501.62ZM414.70,497.88L418.30,497.88L416.50,501.12ZM404.30,500.28L407.90,500.28L406.10,503.52Z"/>
<g fill="#000"><circle cx="444.2" cy="427.1" r="1.75"/><circle cx="449.4" cy="431.4" r="1.75"/><circle cx="454.6" cy="429.7" r="1.75"/><circle cx="444.2" cy="435.4" r="1.75"/><circle cx="449.4" cy="437.2" r="1.75"/><circle cx="444.2" cy="440.6" r="1.75"/><circle cx="444.2" cy="444.8" r="1.75"/><circle cx="449.4" cy="444.8" r="1.75"/><circle cx="454.6" cy="444.4" r="1.75"/><circle cx="444.2" cy="451.7" r="1.75"/><circle cx="449.4" cy="450.5" r="1.75"/><circle cx="459.8" cy="451.0" r="1.75"/><circle cx="444.2" cy="457.0" r="1.75"/><circle cx="449.4" cy="456.2" r="1.75"/><circle cx="454.6" cy="455.7" r="1.75"/><circle cx="454.6" cy="457.4" r="1.75"/><circle cx="449.7" cy="461.7" r="1.75"/><circle cx="454.7" cy="461.7" r="1.75"/><circle cx="438.9" cy="468.2" r="1.75"/><circle cx="449.7" cy="466.9" r="1.75"/><circle cx="444.3" cy="472.3" r="1.75"/><circle cx="444.3" cy="474.2" r="1.75"/><circle cx="449.7" cy="472.6" r="1.75"/><circle cx="454.7" cy="471.1" r="1.75"/><circle cx="459.8" cy="473.5" r="1.75"/><circle cx="454.7" cy="476.1" r="1.75"/><circle cx="449.7" cy="478.4" r="1.75"/><circle cx="444.3" cy="480.2" r="1.75"/><circle cx="459.8" cy="482.2" r="1.75"/><circle cx="438.9" cy="484.0" r="1.75"/><circle cx="444.3" cy="484.2" r="1.75"/><circle cx="449.7" cy="484.2" r="1.75"/><circle cx="454.7" cy="484.2" r="1.75"/><circle cx="438.9" cy="487.3" r="1.75"/><circle cx="441.7" cy="486.0" r="1.75"/><circle cx="446.5" cy="486.7" r="1.75"/><circle cx="452.1" cy="486.7" r="1.75"/><circle cx="457.6" cy="486.7" r="1.75"/><circle cx="444.3" cy="489.1" r="1.75"/><circle cx="449.7" cy="489.8" r="1.75"/><circle cx="454.7" cy="489.1" r="1.75"/><circle cx="459.8" cy="488.4" r="1.75"/><circle cx="438.9" cy="493.2" r="1.75"/><circle cx="444.3" cy="493.2" r="1.75"/><circle cx="449.7" cy="492.5" r="1.75"/><circle cx="454.7" cy="492.5" r="1.75"/><circle cx="459.8" cy="493.9" r="1.75"/><circle cx="441.7" cy="497.7" r="1.75"/><circle cx="446.5" cy="496.7" r="1.75"/><circle cx="452.1" cy="496.7" r="1.75"/><circle cx="457.6" cy="497.4" r="1.75"/><circle cx="438.9" cy="501.5" r="1.75"/><circle cx="444.3" cy="501.5" r="1.75"/><circle cx="449.7" cy="500.2" r="1.75"/><circle cx="454.7" cy="500.9" r="1.75"/><circle cx="459.8" cy="501.5" r="1.75"/><circle cx="446.5" cy="502.3" r="1.75"/><circle cx="452.1" cy="502.6" r="1.75"/></g>
<path fill="#000" d="M491.05,421.15L494.95,421.15L493.00,417.64ZM491.05,432.36L494.95,432.36L493.00,428.85ZM480.75,444.25L484.65,444.25L482.70,440.75ZM485.85,444.95L489.75,444.95L487.80,441.44ZM491.05,447.06L494.95,447.06L493.00,443.55ZM496.25,443.95L500.15,443.95L498.20,440.44ZM496.25,450.75L500.15,450.75L498.20,447.25ZM491.05,453.25L494.95,453.25L493.00,449.75ZM491.05,467.36L494.95,467.36L493.00,463.85ZM491.05,473.86L494.95,473.86L493.00,470.35ZM491.05,485.45L494.95,485.45L493.00,481.94ZM480.55,501.95L484.45,501.95L482.50,498.44ZM484.55,501.95L488.45,501.95L486.50,498.44ZM488.55,501.95L492.45,501.95L490.50,498.44ZM492.55,501.95L496.45,501.95L494.50,498.44ZM496.55,501.95L500.45,501.95L498.50,498.44ZM500.55,501.95L504.45,501.95L502.50,498.44ZM482.05,504.06L485.95,504.06L484.00,500.55ZM486.05,504.06L489.95,504.06L488.00,500.55ZM490.05,504.06L493.95,504.06L492.00,500.55ZM494.05,504.06L497.95,504.06L496.00,500.55ZM498.05,504.06L501.95,504.06L500.00,500.55ZM502.05,504.06L505.95,504.06L504.00,500.55Z"/>
<path d="M44.5,621.6H72.2" stroke="#5a5a5a" stroke-width="1.0"/>
<path d="M87.8,615.0H116.3" stroke="#5a5a5a" stroke-width="1.0"/>
<path d="M131.8,602.3H161.7" stroke="#5a5a5a" stroke-width="1.0"/>
<path fill="#000" d="M54.90,616.77L58.30,616.77L56.60,619.83ZM45.80,620.67L49.20,620.67L47.50,623.73ZM48.80,620.67L52.20,620.67L50.50,623.73ZM51.80,620.67L55.20,620.67L53.50,623.73ZM54.80,620.67L58.20,620.67L56.50,623.73ZM57.80,620.67L61.20,620.67L59.50,623.73ZM60.80,620.67L64.20,620.67L62.50,623.73ZM63.80,620.67L67.20,620.67L65.50,623.73ZM66.80,620.67L70.20,620.67L68.50,623.73ZM69.80,620.67L73.20,620.67L71.50,623.73ZM48.30,619.47L51.70,619.47L50.00,622.53ZM54.30,619.27L57.70,619.27L56.00,622.33ZM60.30,619.47L63.70,619.47L62.00,622.53ZM64.80,619.67L68.20,619.67L66.50,622.73Z"/>
<g fill="#000"><circle cx="97.0" cy="586.6" r="1.75"/><circle cx="102.2" cy="587.8" r="1.75"/><circle cx="97.0" cy="594.7" r="1.75"/><circle cx="107.3" cy="595.6" r="1.75"/><circle cx="112.5" cy="594.2" r="1.75"/><circle cx="102.2" cy="598.7" r="1.75"/><circle cx="91.8" cy="607.3" r="1.75"/><circle cx="97.0" cy="604.6" r="1.75"/><circle cx="102.2" cy="606.0" r="1.75"/><circle cx="107.3" cy="604.6" r="1.75"/><circle cx="112.5" cy="607.7" r="1.75"/><circle cx="97.0" cy="609.1" r="1.75"/><circle cx="107.3" cy="609.4" r="1.75"/><circle cx="90.9" cy="613.5" r="1.75"/><circle cx="96.5" cy="613.5" r="1.75"/><circle cx="102.0" cy="613.5" r="1.75"/><circle cx="107.5" cy="613.5" r="1.75"/><circle cx="113.1" cy="613.5" r="1.75"/><circle cx="90.9" cy="616.0" r="1.75"/><circle cx="96.5" cy="616.0" r="1.75"/><circle cx="102.0" cy="616.0" r="1.75"/><circle cx="107.5" cy="616.0" r="1.75"/><circle cx="113.1" cy="616.0" r="1.75"/><circle cx="90.9" cy="618.5" r="1.75"/><circle cx="96.5" cy="618.5" r="1.75"/><circle cx="102.0" cy="618.5" r="1.75"/><circle cx="107.5" cy="618.5" r="1.75"/><circle cx="113.1" cy="618.5" r="1.75"/><circle cx="90.9" cy="621.0" r="1.75"/><circle cx="96.5" cy="621.0" r="1.75"/><circle cx="102.0" cy="621.0" r="1.75"/><circle cx="107.5" cy="621.0" r="1.75"/><circle cx="113.1" cy="621.0" r="1.75"/><circle cx="90.9" cy="623.5" r="1.75"/><circle cx="96.5" cy="623.5" r="1.75"/><circle cx="102.0" cy="623.5" r="1.75"/><circle cx="107.5" cy="623.5" r="1.75"/><circle cx="113.1" cy="623.5" r="1.75"/><circle cx="93.7" cy="612.6" r="1.75"/><circle cx="99.2" cy="612.0" r="1.75"/><circle cx="104.7" cy="612.0" r="1.75"/><circle cx="110.3" cy="612.6" r="1.75"/><circle cx="93.7" cy="623.8" r="1.75"/><circle cx="99.2" cy="623.8" r="1.75"/><circle cx="104.7" cy="623.8" r="1.75"/><circle cx="110.3" cy="623.8" r="1.75"/><circle cx="102.1" cy="598.5" r="1.75"/><circle cx="91.6" cy="607.5" r="1.75"/><circle cx="112.7" cy="607.8" r="1.75"/></g>
<path fill="#000" d="M139.25,549.15L143.15,549.15L141.20,545.64ZM144.75,549.36L148.65,549.36L146.70,545.85ZM150.25,548.75L154.15,548.75L152.20,545.25ZM144.75,556.65L148.65,556.65L146.70,553.14ZM144.75,585.15L148.65,585.15L146.70,581.64ZM139.25,598.05L143.15,598.05L141.20,594.54ZM150.25,598.75L154.15,598.75L152.20,595.25ZM144.75,600.65L148.65,600.65L146.70,597.14ZM139.25,603.86L143.15,603.86L141.20,600.35ZM144.75,606.46L148.65,606.46L146.70,602.95ZM139.25,616.36L143.15,616.36L141.20,612.85ZM144.75,614.86L148.65,614.86L146.70,611.35ZM144.75,620.75L148.65,620.75L146.70,617.25ZM134.05,624.36L137.95,624.36L136.00,620.85ZM138.05,624.36L141.95,624.36L140.00,620.85ZM142.05,624.36L145.95,624.36L144.00,620.85ZM146.05,624.36L149.95,624.36L148.00,620.85ZM150.05,624.36L153.95,624.36L152.00,620.85ZM154.05,624.36L157.95,624.36L156.00,620.85ZM157.05,624.36L160.95,624.36L159.00,620.85ZM140.05,622.55L143.95,622.55L142.00,619.04ZM148.05,622.55L151.95,622.55L150.00,619.04ZM154.05,622.75L157.95,622.75L156.00,619.25Z"/>
<path fill="#000" d="M234.55,596.85h3.3v3.3h-3.3ZM229.35,618.85h3.3v3.3h-3.3ZM234.55,618.85h3.3v3.3h-3.3ZM224.15,622.85h3.3v3.3h-3.3ZM229.35,623.15h3.3v3.3h-3.3ZM234.55,621.75h3.3v3.3h-3.3ZM237.45,623.15h3.3v3.3h-3.3ZM245.25,623.45h3.3v3.3h-3.3ZM239.15,625.55h3.3v3.3h-3.3ZM232.25,621.05h3.3v3.3h-3.3Z"/>
<path fill="#000" d="M277.85,578.46L281.75,578.46L279.80,574.95ZM283.05,578.46L286.95,578.46L285.00,574.95ZM272.65,590.25L276.55,590.25L274.60,586.75ZM277.85,590.25L281.75,590.25L279.80,586.75ZM283.05,589.25L286.95,589.25L285.00,585.75ZM283.05,591.75L286.95,591.75L285.00,588.25ZM277.85,595.46L281.75,595.46L279.80,591.95ZM267.45,599.25L271.35,599.25L269.40,595.75ZM272.65,600.55L276.55,600.55L274.60,597.04ZM277.85,602.25L281.75,602.25L279.80,598.75ZM283.05,599.55L286.95,599.55L285.00,596.04ZM288.25,598.75L292.15,598.75L290.20,595.25ZM272.65,603.25L276.55,603.25L274.60,599.75ZM277.85,607.55L281.75,607.55L279.80,604.04ZM283.05,606.25L286.95,606.25L285.00,602.75ZM266.55,627.15L270.45,627.15L268.50,623.64ZM270.45,627.15L274.35,627.15L272.40,623.64ZM274.35,627.15L278.25,627.15L276.30,623.64ZM278.25,627.15L282.15,627.15L280.20,623.64ZM282.15,627.15L286.05,627.15L284.10,623.64ZM286.05,627.15L289.95,627.15L288.00,623.64ZM289.95,627.15L293.85,627.15L291.90,623.64ZM272.65,624.55L276.55,624.55L274.60,621.04ZM277.85,623.55L281.75,623.55L279.80,620.04ZM284.25,624.55L288.15,624.55L286.20,621.04ZM268.55,625.36L272.45,625.36L270.50,621.85Z"/>
<path fill="#000" d="M316.35,590.54L320.25,590.54L318.30,594.05ZM321.75,594.04L325.65,594.04L323.70,597.55ZM326.95,595.35L330.85,595.35L328.90,598.86ZM321.75,600.95L325.65,600.95L323.70,604.46ZM316.55,615.25L320.45,615.25L318.50,618.75ZM326.55,614.64L330.45,614.64L328.50,618.15ZM313.85,618.25L317.75,618.25L315.80,621.75ZM319.25,617.04L323.15,617.04L321.20,620.55ZM321.95,617.45L325.85,617.45L323.90,620.96ZM324.65,618.25L328.55,618.25L326.60,621.75ZM329.25,618.25L333.15,618.25L331.20,621.75ZM333.55,617.85L337.45,617.85L335.50,621.36ZM310.85,621.75L314.75,621.75L312.80,625.25ZM316.55,621.25L320.45,621.25L318.50,624.75ZM319.65,620.85L323.55,620.85L321.60,624.36ZM322.35,621.25L326.25,621.25L324.30,624.75ZM325.45,621.75L329.35,621.75L327.40,625.25ZM328.55,621.25L332.45,621.25L330.50,624.75ZM332.35,620.85L336.25,620.85L334.30,624.36ZM312.35,623.64L316.25,623.64L314.30,627.15ZM316.55,623.64L320.45,623.64L318.50,627.15ZM321.55,623.64L325.45,623.64L323.50,627.15ZM325.45,623.64L329.35,623.64L327.40,627.15ZM331.55,623.25L335.45,623.25L333.50,626.75Z"/>
<path d="M392.9,628.8H422.3" stroke="#5a5a5a" stroke-width="1.0"/>
<path d="M436.2,616.0H466.5" stroke="#5a5a5a" stroke-width="1.0"/>
<path d="M480.5,605.3H509.6" stroke="#5a5a5a" stroke-width="1.0"/>
<path fill="#000" d="M394.70,625.38L398.30,625.38L396.50,628.62ZM398.20,624.58L401.80,624.58L400.00,627.82ZM401.70,625.78L405.30,625.78L403.50,629.02ZM405.20,624.38L408.80,624.38L407.00,627.62ZM408.70,625.78L412.30,625.78L410.50,629.02ZM412.20,624.58L415.80,624.58L414.00,627.82ZM415.70,625.38L419.30,625.38L417.50,628.62ZM400.20,626.98L403.80,626.98L402.00,630.22ZM407.20,626.98L410.80,626.98L409.00,630.22ZM404.20,622.98L407.80,622.98L406.00,626.22Z"/>
<g fill="#000"><circle cx="450.9" cy="574.4" r="1.75"/><circle cx="450.9" cy="585.7" r="1.75"/><circle cx="445.7" cy="591.7" r="1.75"/><circle cx="450.9" cy="596.6" r="1.75"/><circle cx="456.1" cy="600.4" r="1.75"/><circle cx="450.9" cy="602.1" r="1.75"/><circle cx="451.0" cy="601.8" r="1.75"/><circle cx="456.2" cy="600.4" r="1.75"/><circle cx="445.4" cy="612.8" r="1.75"/><circle cx="448.5" cy="612.4" r="1.75"/><circle cx="451.0" cy="612.4" r="1.75"/><circle cx="453.4" cy="613.0" r="1.75"/><circle cx="440.6" cy="614.6" r="1.75"/><circle cx="453.7" cy="614.6" r="1.75"/><circle cx="445.4" cy="617.5" r="1.75"/><circle cx="451.0" cy="617.7" r="1.75"/><circle cx="456.2" cy="617.5" r="1.75"/><circle cx="461.7" cy="617.5" r="1.75"/><circle cx="440.6" cy="620.3" r="1.75"/><circle cx="447.9" cy="620.3" r="1.75"/><circle cx="453.7" cy="621.0" r="1.75"/><circle cx="458.9" cy="620.3" r="1.75"/><circle cx="440.6" cy="622.4" r="1.75"/><circle cx="445.4" cy="622.6" r="1.75"/><circle cx="451.0" cy="622.3" r="1.75"/><circle cx="456.2" cy="622.6" r="1.75"/><circle cx="461.7" cy="622.3" r="1.75"/><circle cx="440.6" cy="625.7" r="1.75"/><circle cx="445.4" cy="625.4" r="1.75"/><circle cx="451.0" cy="624.7" r="1.75"/><circle cx="456.2" cy="625.4" r="1.75"/><circle cx="461.7" cy="627.0" r="1.75"/><circle cx="443.0" cy="626.4" r="1.75"/><circle cx="448.5" cy="626.4" r="1.75"/><circle cx="453.7" cy="626.4" r="1.75"/><circle cx="458.9" cy="626.4" r="1.75"/><circle cx="445.4" cy="628.5" r="1.75"/><circle cx="451.0" cy="628.5" r="1.75"/><circle cx="456.2" cy="628.8" r="1.75"/><circle cx="461.7" cy="627.8" r="1.75"/></g>
<path fill="#000" d="M487.55,556.75L491.45,556.75L489.50,560.25ZM492.85,560.25L496.75,560.25L494.80,563.75ZM487.55,568.54L491.45,568.54L489.50,572.05ZM492.85,569.54L496.75,569.54L494.80,573.05ZM498.35,568.85L502.25,568.85L500.30,572.36ZM487.55,578.54L491.45,578.54L489.50,582.05ZM492.85,581.35L496.75,581.35L494.80,584.86ZM498.35,577.14L502.25,577.14L500.30,580.65ZM492.85,591.85L496.75,591.85L494.80,595.36ZM492.85,606.25L496.75,606.25L494.80,609.75ZM492.85,616.95L496.75,616.95L494.80,620.46ZM487.05,620.95L490.95,620.95L489.00,624.46ZM498.35,620.95L502.25,620.95L500.30,624.46ZM485.05,622.25L488.95,622.25L487.00,625.75ZM492.85,621.85L496.75,621.85L494.80,625.36ZM501.05,622.85L504.95,622.85L503.00,626.36ZM482.55,624.75L486.45,624.75L484.50,628.25ZM488.05,624.35L491.95,624.35L490.00,627.86ZM492.85,624.14L496.75,624.14L494.80,627.65ZM497.05,624.14L500.95,624.14L499.00,627.65ZM502.05,624.75L505.95,624.75L504.00,628.25ZM488.05,626.25L491.95,626.25L490.00,629.75ZM495.05,626.54L498.95,626.54L497.00,630.05ZM503.55,626.25L507.45,626.25L505.50,629.75Z"/>
<path d="M141.6,684.2V859.3H438.6" fill="none" stroke="#000" stroke-width="1.5"/>
<path d="M141.6,693.4H143.6M141.6,726.5H143.6M141.6,759.6H143.6M141.6,792.8H143.6M141.6,826.0H143.6M141.6,859.2H143.6" stroke="#000" stroke-width="1"/>
<path d="M200.2,859.3V857.5M258.3,859.3V857.5M316.5,859.3V857.5M375.0,859.3V857.5M433.4,859.3V857.5" stroke="#000" stroke-width="1"/>
<text x="118.13" y="697.40" font-size="12.0" font-weight="normal" textLength="19.77" lengthAdjust="spacingAndGlyphs" class="k">1.0</text>
<text x="118.64" y="730.50" font-size="12.0" font-weight="normal" textLength="19.31" lengthAdjust="spacingAndGlyphs" class="k">0.8</text>
<text x="118.64" y="763.60" font-size="12.0" font-weight="normal" textLength="19.31" lengthAdjust="spacingAndGlyphs" class="k">0.6</text>
<text x="118.65" y="796.80" font-size="12.0" font-weight="normal" textLength="19.17" lengthAdjust="spacingAndGlyphs" class="k">0.4</text>
<text x="118.64" y="830.00" font-size="12.0" font-weight="normal" textLength="19.46" lengthAdjust="spacingAndGlyphs" class="k">0.2</text>
<text x="118.65" y="863.20" font-size="12.0" font-weight="normal" textLength="19.24" lengthAdjust="spacingAndGlyphs" class="k">0.0</text>
<text x="192.86" y="870.90" font-size="12.3" font-weight="normal" textLength="14.26" lengthAdjust="spacingAndGlyphs" class="serif">24</text>
<text x="251.11" y="870.90" font-size="12.3" font-weight="normal" textLength="14.26" lengthAdjust="spacingAndGlyphs" class="serif">48</text>
<text x="307.68" y="870.90" font-size="12.3" font-weight="normal" textLength="15.68" lengthAdjust="spacingAndGlyphs" class="serif">72</text>
<text x="366.44" y="870.90" font-size="12.3" font-weight="normal" textLength="15.32" lengthAdjust="spacingAndGlyphs" class="serif">96</text>
<text x="423.39" y="870.90" font-size="12.3" font-weight="normal" textLength="21.38" lengthAdjust="spacingAndGlyphs" class="serif">120</text>
<text x="265.17" y="885.00" font-size="12.8" font-weight="normal" textLength="44.05" lengthAdjust="spacingAndGlyphs" class="serif">Months</text>
<text transform="translate(109.0,771.8) rotate(-90)" x="-48.2" y="0" font-size="10.8" textLength="96.4" lengthAdjust="spacingAndGlyphs" class="y">Survival Probability</text>
<text x="235.91" y="704.5" font-size="16.5" font-style="italic" textLength="13.02" lengthAdjust="spacingAndGlyphs">P</text>
<text x="251.66" y="703.60" font-size="15.0" font-weight="normal" textLength="8.67" lengthAdjust="spacingAndGlyphs">&lt;</text>
<text x="260.04" y="704.50" font-size="16.5" font-weight="normal" textLength="27.14" lengthAdjust="spacingAndGlyphs">.05</text>
<path d="M235.1,707.2H289.9" stroke="#000" stroke-width="1.2"/>
<text x="306.57" y="738.90" font-size="12.0" font-weight="normal" textLength="145.95" lengthAdjust="spacingAndGlyphs" class="lg">No. of gene methylated</text>
<path d="M307.7,741.1H451.4" stroke="#000" stroke-width="0.9"/>
<text x="359.12" y="756.60" font-size="12.0" font-weight="normal" textLength="30.98" lengthAdjust="spacingAndGlyphs" class="lg">(1-3)</text>
<path d="M360.0,758.5H389.2" stroke="#000" stroke-width="0.9"/>
<text x="431.63" y="785.20" font-size="12.0" font-weight="normal" textLength="30.66" lengthAdjust="spacingAndGlyphs" class="lg">(4-7)</text>
<path d="M432.5,787.1H461.4" stroke="#000" stroke-width="0.9"/>
<text x="358.63" y="823.40" font-size="12.0" font-weight="normal" textLength="38.68" lengthAdjust="spacingAndGlyphs" class="lg">(8-10)</text>
<path d="M359.5,825.3H396.4" stroke="#000" stroke-width="0.9"/>
<path d="M144.8,704.5H154.6V715.2H168.3V725.4H177.5V739.2H180.4V749.8H201.5V762.3H214.6V773.8H223.7V787H255.5V798.75H261.25V810.5H313V822.5H323.75V835H438.25" fill="none" stroke="#000" stroke-width="1.6" stroke-dasharray="1.6,1.3"/>
<path d="M146,693.3H162.5V697.2H180.4V702.4H183.3V705.3H186.2V708.2H190.4V712H192.9V715.9H195.8V721.1H198.7V725.2H225.6V729.6H226.5V735H227.5V740.6H258V745H270.5V758H284.5V766H320.5V770H328.75V773.75H351.25V778.25H398.75V782.5H422.5V786.25H428.75V790.5H437.5" fill="none" stroke="#000" stroke-width="1.3" stroke-dasharray="7,0.9"/>
<path d="M146,693.3H147.5V717.2H156.4V740.2H244.8V764.2H438.75" fill="none" stroke="#000" stroke-width="1.5"/>
<path d="M401.0,780.5V784.5M320.5,765.5V769.5M170.5,723.4V727.4M164.5,694.7V698.7M182.5,700.4V704.4" stroke="#000" stroke-width="0.9"/>
</svg>
</body></html>
